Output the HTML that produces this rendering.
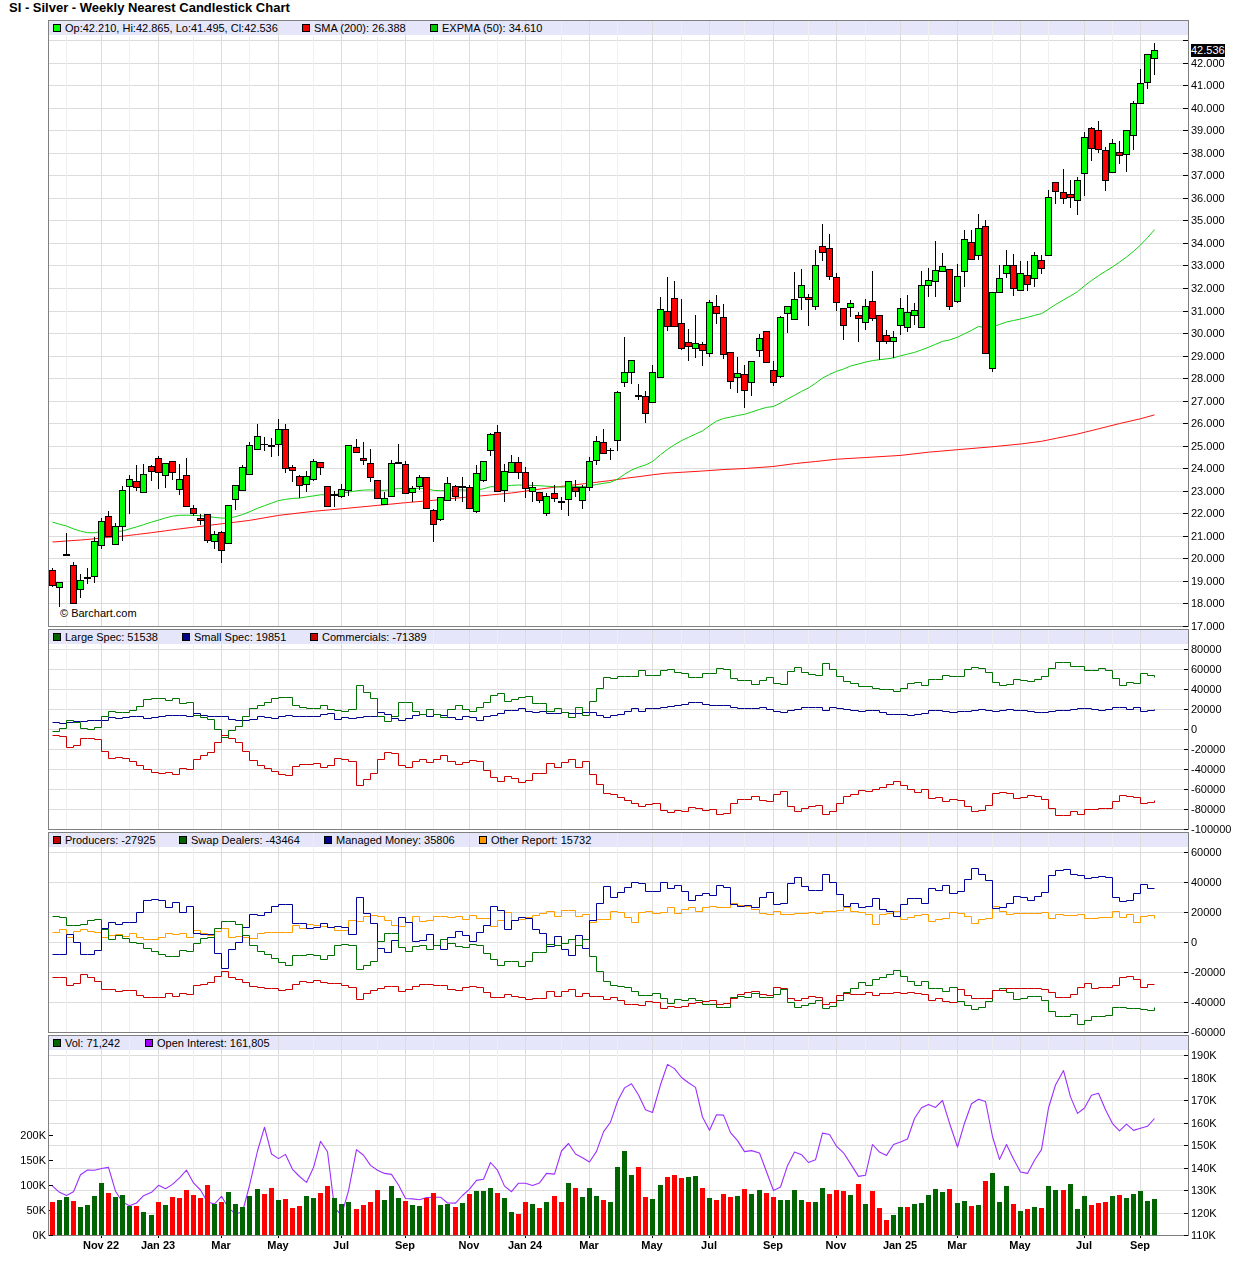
<!DOCTYPE html>
<html><head><meta charset="utf-8"><title>SI - Silver - Weekly Nearest Candlestick Chart</title>
<style>
html,body{margin:0;padding:0;background:#fff}
body{width:1236px;height:1276px;position:relative;overflow:hidden;font-family:"Liberation Sans", sans-serif;}
</style></head><body>
<svg width="1236" height="1276" viewBox="0 0 1236 1276" style="position:absolute;left:0;top:0">
<rect width="1236" height="1276" fill="#fff"/>
<rect x="49" y="21" width="1139" height="14" fill="#e6e6fa"/>
<rect x="49" y="630" width="1139" height="14" fill="#e6e6fa"/>
<rect x="49" y="833" width="1139" height="14" fill="#e6e6fa"/>
<rect x="49" y="1036" width="1139" height="14" fill="#e6e6fa"/>
<g shape-rendering="crispEdges">
<rect x="49" y="40" width="1139" height="1" fill="#dcdcdc"/>
<rect x="49" y="63" width="1139" height="1" fill="#dcdcdc"/>
<rect x="49" y="85" width="1139" height="1" fill="#dcdcdc"/>
<rect x="49" y="108" width="1139" height="1" fill="#dcdcdc"/>
<rect x="49" y="130" width="1139" height="1" fill="#dcdcdc"/>
<rect x="49" y="153" width="1139" height="1" fill="#dcdcdc"/>
<rect x="49" y="175" width="1139" height="1" fill="#dcdcdc"/>
<rect x="49" y="198" width="1139" height="1" fill="#dcdcdc"/>
<rect x="49" y="220" width="1139" height="1" fill="#dcdcdc"/>
<rect x="49" y="243" width="1139" height="1" fill="#dcdcdc"/>
<rect x="49" y="265" width="1139" height="1" fill="#dcdcdc"/>
<rect x="49" y="288" width="1139" height="1" fill="#dcdcdc"/>
<rect x="49" y="311" width="1139" height="1" fill="#dcdcdc"/>
<rect x="49" y="333" width="1139" height="1" fill="#dcdcdc"/>
<rect x="49" y="356" width="1139" height="1" fill="#dcdcdc"/>
<rect x="49" y="378" width="1139" height="1" fill="#dcdcdc"/>
<rect x="49" y="401" width="1139" height="1" fill="#dcdcdc"/>
<rect x="49" y="423" width="1139" height="1" fill="#dcdcdc"/>
<rect x="49" y="446" width="1139" height="1" fill="#dcdcdc"/>
<rect x="49" y="468" width="1139" height="1" fill="#dcdcdc"/>
<rect x="49" y="491" width="1139" height="1" fill="#dcdcdc"/>
<rect x="49" y="513" width="1139" height="1" fill="#dcdcdc"/>
<rect x="49" y="536" width="1139" height="1" fill="#dcdcdc"/>
<rect x="49" y="558" width="1139" height="1" fill="#dcdcdc"/>
<rect x="49" y="581" width="1139" height="1" fill="#dcdcdc"/>
<rect x="49" y="603" width="1139" height="1" fill="#dcdcdc"/>
<rect x="49" y="649" width="1139" height="1" fill="#dcdcdc"/>
<rect x="49" y="669" width="1139" height="1" fill="#dcdcdc"/>
<rect x="49" y="689" width="1139" height="1" fill="#dcdcdc"/>
<rect x="49" y="709" width="1139" height="1" fill="#dcdcdc"/>
<rect x="49" y="729" width="1139" height="1" fill="#dcdcdc"/>
<rect x="49" y="749" width="1139" height="1" fill="#dcdcdc"/>
<rect x="49" y="769" width="1139" height="1" fill="#dcdcdc"/>
<rect x="49" y="789" width="1139" height="1" fill="#dcdcdc"/>
<rect x="49" y="809" width="1139" height="1" fill="#dcdcdc"/>
<rect x="49" y="852" width="1139" height="1" fill="#dcdcdc"/>
<rect x="49" y="882" width="1139" height="1" fill="#dcdcdc"/>
<rect x="49" y="912" width="1139" height="1" fill="#dcdcdc"/>
<rect x="49" y="942" width="1139" height="1" fill="#dcdcdc"/>
<rect x="49" y="972" width="1139" height="1" fill="#dcdcdc"/>
<rect x="49" y="1002" width="1139" height="1" fill="#dcdcdc"/>
<rect x="49" y="1055" width="1139" height="1" fill="#dcdcdc"/>
<rect x="49" y="1078" width="1139" height="1" fill="#dcdcdc"/>
<rect x="49" y="1100" width="1139" height="1" fill="#dcdcdc"/>
<rect x="49" y="1123" width="1139" height="1" fill="#dcdcdc"/>
<rect x="49" y="1145" width="1139" height="1" fill="#dcdcdc"/>
<rect x="49" y="1168" width="1139" height="1" fill="#dcdcdc"/>
<rect x="49" y="1190" width="1139" height="1" fill="#dcdcdc"/>
<rect x="49" y="1213" width="1139" height="1" fill="#dcdcdc"/>
<rect x="101" y="21" width="1" height="605" fill="#dcdcdc"/>
<rect x="101" y="630" width="1" height="199" fill="#dcdcdc"/>
<rect x="101" y="833" width="1" height="199" fill="#dcdcdc"/>
<rect x="101" y="1036" width="1" height="199" fill="#dcdcdc"/>
<rect x="158" y="21" width="1" height="605" fill="#dcdcdc"/>
<rect x="158" y="630" width="1" height="199" fill="#dcdcdc"/>
<rect x="158" y="833" width="1" height="199" fill="#dcdcdc"/>
<rect x="158" y="1036" width="1" height="199" fill="#dcdcdc"/>
<rect x="221" y="21" width="1" height="605" fill="#dcdcdc"/>
<rect x="221" y="630" width="1" height="199" fill="#dcdcdc"/>
<rect x="221" y="833" width="1" height="199" fill="#dcdcdc"/>
<rect x="221" y="1036" width="1" height="199" fill="#dcdcdc"/>
<rect x="278" y="21" width="1" height="605" fill="#dcdcdc"/>
<rect x="278" y="630" width="1" height="199" fill="#dcdcdc"/>
<rect x="278" y="833" width="1" height="199" fill="#dcdcdc"/>
<rect x="278" y="1036" width="1" height="199" fill="#dcdcdc"/>
<rect x="341" y="21" width="1" height="605" fill="#dcdcdc"/>
<rect x="341" y="630" width="1" height="199" fill="#dcdcdc"/>
<rect x="341" y="833" width="1" height="199" fill="#dcdcdc"/>
<rect x="341" y="1036" width="1" height="199" fill="#dcdcdc"/>
<rect x="405" y="21" width="1" height="605" fill="#dcdcdc"/>
<rect x="405" y="630" width="1" height="199" fill="#dcdcdc"/>
<rect x="405" y="833" width="1" height="199" fill="#dcdcdc"/>
<rect x="405" y="1036" width="1" height="199" fill="#dcdcdc"/>
<rect x="469" y="21" width="1" height="605" fill="#dcdcdc"/>
<rect x="469" y="630" width="1" height="199" fill="#dcdcdc"/>
<rect x="469" y="833" width="1" height="199" fill="#dcdcdc"/>
<rect x="469" y="1036" width="1" height="199" fill="#dcdcdc"/>
<rect x="525" y="21" width="1" height="605" fill="#dcdcdc"/>
<rect x="525" y="630" width="1" height="199" fill="#dcdcdc"/>
<rect x="525" y="833" width="1" height="199" fill="#dcdcdc"/>
<rect x="525" y="1036" width="1" height="199" fill="#dcdcdc"/>
<rect x="589" y="21" width="1" height="605" fill="#dcdcdc"/>
<rect x="589" y="630" width="1" height="199" fill="#dcdcdc"/>
<rect x="589" y="833" width="1" height="199" fill="#dcdcdc"/>
<rect x="589" y="1036" width="1" height="199" fill="#dcdcdc"/>
<rect x="652" y="21" width="1" height="605" fill="#dcdcdc"/>
<rect x="652" y="630" width="1" height="199" fill="#dcdcdc"/>
<rect x="652" y="833" width="1" height="199" fill="#dcdcdc"/>
<rect x="652" y="1036" width="1" height="199" fill="#dcdcdc"/>
<rect x="709" y="21" width="1" height="605" fill="#dcdcdc"/>
<rect x="709" y="630" width="1" height="199" fill="#dcdcdc"/>
<rect x="709" y="833" width="1" height="199" fill="#dcdcdc"/>
<rect x="709" y="1036" width="1" height="199" fill="#dcdcdc"/>
<rect x="773" y="21" width="1" height="605" fill="#dcdcdc"/>
<rect x="773" y="630" width="1" height="199" fill="#dcdcdc"/>
<rect x="773" y="833" width="1" height="199" fill="#dcdcdc"/>
<rect x="773" y="1036" width="1" height="199" fill="#dcdcdc"/>
<rect x="836" y="21" width="1" height="605" fill="#dcdcdc"/>
<rect x="836" y="630" width="1" height="199" fill="#dcdcdc"/>
<rect x="836" y="833" width="1" height="199" fill="#dcdcdc"/>
<rect x="836" y="1036" width="1" height="199" fill="#dcdcdc"/>
<rect x="900" y="21" width="1" height="605" fill="#dcdcdc"/>
<rect x="900" y="630" width="1" height="199" fill="#dcdcdc"/>
<rect x="900" y="833" width="1" height="199" fill="#dcdcdc"/>
<rect x="900" y="1036" width="1" height="199" fill="#dcdcdc"/>
<rect x="957" y="21" width="1" height="605" fill="#dcdcdc"/>
<rect x="957" y="630" width="1" height="199" fill="#dcdcdc"/>
<rect x="957" y="833" width="1" height="199" fill="#dcdcdc"/>
<rect x="957" y="1036" width="1" height="199" fill="#dcdcdc"/>
<rect x="1020" y="21" width="1" height="605" fill="#dcdcdc"/>
<rect x="1020" y="630" width="1" height="199" fill="#dcdcdc"/>
<rect x="1020" y="833" width="1" height="199" fill="#dcdcdc"/>
<rect x="1020" y="1036" width="1" height="199" fill="#dcdcdc"/>
<rect x="1084" y="21" width="1" height="605" fill="#dcdcdc"/>
<rect x="1084" y="630" width="1" height="199" fill="#dcdcdc"/>
<rect x="1084" y="833" width="1" height="199" fill="#dcdcdc"/>
<rect x="1084" y="1036" width="1" height="199" fill="#dcdcdc"/>
<rect x="1140" y="21" width="1" height="605" fill="#dcdcdc"/>
<rect x="1140" y="630" width="1" height="199" fill="#dcdcdc"/>
<rect x="1140" y="833" width="1" height="199" fill="#dcdcdc"/>
<rect x="1140" y="1036" width="1" height="199" fill="#dcdcdc"/>
<rect x="66" y="21" width="1" height="605" fill="#efefef"/>
<rect x="66" y="630" width="1" height="199" fill="#efefef"/>
<rect x="66" y="833" width="1" height="199" fill="#efefef"/>
<rect x="66" y="1036" width="1" height="199" fill="#efefef"/>
<rect x="129" y="21" width="1" height="605" fill="#efefef"/>
<rect x="129" y="630" width="1" height="199" fill="#efefef"/>
<rect x="129" y="833" width="1" height="199" fill="#efefef"/>
<rect x="129" y="1036" width="1" height="199" fill="#efefef"/>
<rect x="193" y="21" width="1" height="605" fill="#efefef"/>
<rect x="193" y="630" width="1" height="199" fill="#efefef"/>
<rect x="193" y="833" width="1" height="199" fill="#efefef"/>
<rect x="193" y="1036" width="1" height="199" fill="#efefef"/>
<rect x="249" y="21" width="1" height="605" fill="#efefef"/>
<rect x="249" y="630" width="1" height="199" fill="#efefef"/>
<rect x="249" y="833" width="1" height="199" fill="#efefef"/>
<rect x="249" y="1036" width="1" height="199" fill="#efefef"/>
<rect x="313" y="21" width="1" height="605" fill="#efefef"/>
<rect x="313" y="630" width="1" height="199" fill="#efefef"/>
<rect x="313" y="833" width="1" height="199" fill="#efefef"/>
<rect x="313" y="1036" width="1" height="199" fill="#efefef"/>
<rect x="377" y="21" width="1" height="605" fill="#efefef"/>
<rect x="377" y="630" width="1" height="199" fill="#efefef"/>
<rect x="377" y="833" width="1" height="199" fill="#efefef"/>
<rect x="377" y="1036" width="1" height="199" fill="#efefef"/>
<rect x="433" y="21" width="1" height="605" fill="#efefef"/>
<rect x="433" y="630" width="1" height="199" fill="#efefef"/>
<rect x="433" y="833" width="1" height="199" fill="#efefef"/>
<rect x="433" y="1036" width="1" height="199" fill="#efefef"/>
<rect x="497" y="21" width="1" height="605" fill="#efefef"/>
<rect x="497" y="630" width="1" height="199" fill="#efefef"/>
<rect x="497" y="833" width="1" height="199" fill="#efefef"/>
<rect x="497" y="1036" width="1" height="199" fill="#efefef"/>
<rect x="561" y="21" width="1" height="605" fill="#efefef"/>
<rect x="561" y="630" width="1" height="199" fill="#efefef"/>
<rect x="561" y="833" width="1" height="199" fill="#efefef"/>
<rect x="561" y="1036" width="1" height="199" fill="#efefef"/>
<rect x="617" y="21" width="1" height="605" fill="#efefef"/>
<rect x="617" y="630" width="1" height="199" fill="#efefef"/>
<rect x="617" y="833" width="1" height="199" fill="#efefef"/>
<rect x="617" y="1036" width="1" height="199" fill="#efefef"/>
<rect x="681" y="21" width="1" height="605" fill="#efefef"/>
<rect x="681" y="630" width="1" height="199" fill="#efefef"/>
<rect x="681" y="833" width="1" height="199" fill="#efefef"/>
<rect x="681" y="1036" width="1" height="199" fill="#efefef"/>
<rect x="744" y="21" width="1" height="605" fill="#efefef"/>
<rect x="744" y="630" width="1" height="199" fill="#efefef"/>
<rect x="744" y="833" width="1" height="199" fill="#efefef"/>
<rect x="744" y="1036" width="1" height="199" fill="#efefef"/>
<rect x="808" y="21" width="1" height="605" fill="#efefef"/>
<rect x="808" y="630" width="1" height="199" fill="#efefef"/>
<rect x="808" y="833" width="1" height="199" fill="#efefef"/>
<rect x="808" y="1036" width="1" height="199" fill="#efefef"/>
<rect x="865" y="21" width="1" height="605" fill="#efefef"/>
<rect x="865" y="630" width="1" height="199" fill="#efefef"/>
<rect x="865" y="833" width="1" height="199" fill="#efefef"/>
<rect x="865" y="1036" width="1" height="199" fill="#efefef"/>
<rect x="928" y="21" width="1" height="605" fill="#efefef"/>
<rect x="928" y="630" width="1" height="199" fill="#efefef"/>
<rect x="928" y="833" width="1" height="199" fill="#efefef"/>
<rect x="928" y="1036" width="1" height="199" fill="#efefef"/>
<rect x="992" y="21" width="1" height="605" fill="#efefef"/>
<rect x="992" y="630" width="1" height="199" fill="#efefef"/>
<rect x="992" y="833" width="1" height="199" fill="#efefef"/>
<rect x="992" y="1036" width="1" height="199" fill="#efefef"/>
<rect x="1048" y="21" width="1" height="605" fill="#efefef"/>
<rect x="1048" y="630" width="1" height="199" fill="#efefef"/>
<rect x="1048" y="833" width="1" height="199" fill="#efefef"/>
<rect x="1048" y="1036" width="1" height="199" fill="#efefef"/>
<rect x="1112" y="21" width="1" height="605" fill="#efefef"/>
<rect x="1112" y="630" width="1" height="199" fill="#efefef"/>
<rect x="1112" y="833" width="1" height="199" fill="#efefef"/>
<rect x="1112" y="1036" width="1" height="199" fill="#efefef"/>
<rect x="48.5" y="20.5" width="1140" height="606" fill="none" stroke="#808080" stroke-width="1"/>
<rect x="48.5" y="629.5" width="1140" height="200" fill="none" stroke="#808080" stroke-width="1"/>
<rect x="48.5" y="832.5" width="1140" height="200" fill="none" stroke="#808080" stroke-width="1"/>
<rect x="48.5" y="1035.5" width="1140" height="200" fill="none" stroke="#808080" stroke-width="1"/>
<rect x="1183" y="40" width="5" height="1" fill="#000"/>
<rect x="1183" y="63" width="5" height="1" fill="#000"/>
<rect x="1183" y="85" width="5" height="1" fill="#000"/>
<rect x="1183" y="108" width="5" height="1" fill="#000"/>
<rect x="1183" y="130" width="5" height="1" fill="#000"/>
<rect x="1183" y="153" width="5" height="1" fill="#000"/>
<rect x="1183" y="175" width="5" height="1" fill="#000"/>
<rect x="1183" y="198" width="5" height="1" fill="#000"/>
<rect x="1183" y="220" width="5" height="1" fill="#000"/>
<rect x="1183" y="243" width="5" height="1" fill="#000"/>
<rect x="1183" y="265" width="5" height="1" fill="#000"/>
<rect x="1183" y="288" width="5" height="1" fill="#000"/>
<rect x="1183" y="311" width="5" height="1" fill="#000"/>
<rect x="1183" y="333" width="5" height="1" fill="#000"/>
<rect x="1183" y="356" width="5" height="1" fill="#000"/>
<rect x="1183" y="378" width="5" height="1" fill="#000"/>
<rect x="1183" y="401" width="5" height="1" fill="#000"/>
<rect x="1183" y="423" width="5" height="1" fill="#000"/>
<rect x="1183" y="446" width="5" height="1" fill="#000"/>
<rect x="1183" y="468" width="5" height="1" fill="#000"/>
<rect x="1183" y="491" width="5" height="1" fill="#000"/>
<rect x="1183" y="513" width="5" height="1" fill="#000"/>
<rect x="1183" y="536" width="5" height="1" fill="#000"/>
<rect x="1183" y="558" width="5" height="1" fill="#000"/>
<rect x="1183" y="581" width="5" height="1" fill="#000"/>
<rect x="1183" y="603" width="5" height="1" fill="#000"/>
<rect x="1183" y="626" width="5" height="1" fill="#000"/>
<rect x="1184" y="649" width="4" height="1" fill="#000"/>
<rect x="1184" y="669" width="4" height="1" fill="#000"/>
<rect x="1184" y="689" width="4" height="1" fill="#000"/>
<rect x="1184" y="709" width="4" height="1" fill="#000"/>
<rect x="1184" y="729" width="4" height="1" fill="#000"/>
<rect x="1184" y="749" width="4" height="1" fill="#000"/>
<rect x="1184" y="769" width="4" height="1" fill="#000"/>
<rect x="1184" y="789" width="4" height="1" fill="#000"/>
<rect x="1184" y="809" width="4" height="1" fill="#000"/>
<rect x="1184" y="829" width="4" height="1" fill="#000"/>
<rect x="1184" y="852" width="4" height="1" fill="#000"/>
<rect x="1184" y="882" width="4" height="1" fill="#000"/>
<rect x="1184" y="912" width="4" height="1" fill="#000"/>
<rect x="1184" y="942" width="4" height="1" fill="#000"/>
<rect x="1184" y="972" width="4" height="1" fill="#000"/>
<rect x="1184" y="1002" width="4" height="1" fill="#000"/>
<rect x="1184" y="1032" width="4" height="1" fill="#000"/>
<rect x="1184" y="1055" width="4" height="1" fill="#000"/>
<rect x="1184" y="1078" width="4" height="1" fill="#000"/>
<rect x="1184" y="1100" width="4" height="1" fill="#000"/>
<rect x="1184" y="1123" width="4" height="1" fill="#000"/>
<rect x="1184" y="1145" width="4" height="1" fill="#000"/>
<rect x="1184" y="1168" width="4" height="1" fill="#000"/>
<rect x="1184" y="1190" width="4" height="1" fill="#000"/>
<rect x="1184" y="1213" width="4" height="1" fill="#000"/>
<rect x="1184" y="1235" width="4" height="1" fill="#000"/>
<rect x="49" y="1135" width="4" height="1" fill="#000"/>
<rect x="49" y="1160" width="4" height="1" fill="#000"/>
<rect x="49" y="1185" width="4" height="1" fill="#000"/>
<rect x="49" y="1210" width="4" height="1" fill="#000"/>
<rect x="49" y="1235" width="4" height="1" fill="#000"/>
<rect x="101" y="1236" width="1" height="2" fill="#000"/>
<rect x="158" y="1236" width="1" height="2" fill="#000"/>
<rect x="221" y="1236" width="1" height="2" fill="#000"/>
<rect x="278" y="1236" width="1" height="2" fill="#000"/>
<rect x="341" y="1236" width="1" height="2" fill="#000"/>
<rect x="405" y="1236" width="1" height="2" fill="#000"/>
<rect x="469" y="1236" width="1" height="2" fill="#000"/>
<rect x="525" y="1236" width="1" height="2" fill="#000"/>
<rect x="589" y="1236" width="1" height="2" fill="#000"/>
<rect x="652" y="1236" width="1" height="2" fill="#000"/>
<rect x="709" y="1236" width="1" height="2" fill="#000"/>
<rect x="773" y="1236" width="1" height="2" fill="#000"/>
<rect x="836" y="1236" width="1" height="2" fill="#000"/>
<rect x="900" y="1236" width="1" height="2" fill="#000"/>
<rect x="957" y="1236" width="1" height="2" fill="#000"/>
<rect x="1020" y="1236" width="1" height="2" fill="#000"/>
<rect x="1084" y="1236" width="1" height="2" fill="#000"/>
<rect x="1140" y="1236" width="1" height="2" fill="#000"/>
</g>
<path d="M52.5 722.5H59.5V723.5H66.5V722.5H73.5V721.5H80.5H87.5V720.5H94.5H101.5H108.5V717.5H115.5V718.5H122.5V717.5H129.5V716.5H136.5H143.5V718.5H151.5V717.5H158.5V716.5H165.5V715.5H172.5H179.5H186.5V716.5H193.5V713.5H200.5V715.5H207.5V716.5H214.5H221.5H228.5V719.5H235.5V720.5H242.5H249.5V719.5H257.5V716.5H264.5V717.5H271.5V718.5H278.5V716.5H285.5V715.5H292.5V716.5H299.5H306.5H313.5H320.5V714.5H327.5V713.5H334.5V719.5H341.5V717.5H348.5V718.5H356.5V717.5H363.5V716.5H370.5H377.5V712.5H384.5V714.5H391.5V718.5H398.5V720.5H405.5V718.5H412.5V715.5H419.5V714.5H426.5V716.5H433.5V714.5H440.5V715.5H447.5V717.5H455.5V719.5H462.5V716.5H469.5V717.5H476.5V720.5H483.5V716.5H490.5V715.5H497.5V713.5H504.5V710.5H511.5H518.5V708.5H525.5V711.5H532.5V712.5H539.5V711.5H546.5V713.5H554.5H561.5V712.5H568.5V713.5H575.5H582.5V712.5H589.5H596.5V715.5H603.5V717.5H610.5V715.5H617.5V714.5H624.5V711.5H631.5V708.5H638.5V711.5H645.5V708.5H652.5H660.5V707.5H667.5V706.5H674.5V705.5H681.5V704.5H688.5V702.5H695.5H702.5V704.5H709.5V705.5H716.5H723.5H730.5V707.5H737.5V708.5H744.5H751.5H759.5V707.5H766.5V709.5H773.5V711.5H780.5V712.5H787.5V710.5H794.5V709.5H801.5V707.5H808.5H815.5H822.5V710.5H829.5V707.5H836.5V708.5H843.5V709.5H850.5V710.5H858.5V711.5H865.5V710.5H872.5H879.5V712.5H886.5V714.5H893.5H900.5H907.5V715.5H914.5V714.5H921.5V713.5H928.5V710.5H935.5H942.5V711.5H949.5V712.5H957.5V711.5H964.5H971.5V710.5H978.5V709.5H985.5V710.5H992.5V711.5H999.5V710.5H1006.5V709.5H1013.5V710.5H1020.5H1027.5V711.5H1034.5V712.5H1041.5H1048.5V711.5H1055.5V710.5H1063.5H1070.5V709.5H1077.5V708.5H1084.5H1091.5V709.5H1098.5V710.5H1105.5V709.5H1112.5V707.5H1119.5H1126.5V709.5H1133.5V707.5H1140.5V711.5H1147.5V710.5H1154.5V709.5" fill="none" stroke="#00008b" stroke-width="1"/>
<path d="M52.5 735.5H59.5V736.5H66.5V747.5H73.5V745.5H80.5V738.5H87.5H94.5V739.5H101.5V751.5H108.5V758.5H115.5V757.5H122.5V758.5H129.5V761.5H136.5V765.5H143.5V769.5H151.5V772.5H158.5V773.5H165.5V772.5H172.5V774.5H179.5V768.5H186.5V769.5H193.5V759.5H200.5V755.5H207.5V752.5H214.5V742.5H221.5V735.5H228.5V738.5H235.5V742.5H242.5V751.5H249.5V760.5H257.5V765.5H264.5V768.5H271.5V771.5H278.5V774.5H285.5V775.5H292.5V766.5H299.5V764.5H306.5H313.5V763.5H320.5V767.5H327.5V765.5H334.5V758.5H341.5V759.5H348.5V761.5H356.5V785.5H363.5V779.5H370.5V773.5H377.5V759.5H384.5V752.5H391.5V753.5H398.5V765.5H405.5V767.5H412.5V761.5H419.5V759.5H426.5V762.5H433.5V759.5H440.5V755.5H447.5V761.5H455.5V764.5H462.5V762.5H469.5V760.5H476.5V761.5H483.5V770.5H490.5V777.5H497.5V781.5H504.5V776.5H511.5V778.5H518.5V782.5H525.5V780.5H532.5V773.5H539.5H546.5V763.5H554.5V767.5H561.5V762.5H568.5V759.5H575.5V767.5H582.5V761.5H589.5V774.5H596.5V784.5H603.5V793.5H610.5V794.5H617.5V797.5H624.5V800.5H631.5V803.5H638.5V806.5H645.5V804.5H652.5V803.5H660.5V810.5H667.5V812.5H674.5V810.5H681.5V811.5H688.5V807.5H695.5V808.5H702.5V810.5H709.5V809.5H716.5V814.5H723.5V813.5H730.5V803.5H737.5V799.5H744.5H751.5V796.5H759.5V800.5H766.5V801.5H773.5V794.5H780.5V791.5H787.5V806.5H794.5V811.5H801.5V808.5H808.5V806.5H815.5V805.5H822.5V814.5H829.5V811.5H836.5V803.5H843.5V796.5H850.5V794.5H858.5V790.5H865.5V791.5H872.5V789.5H879.5V787.5H886.5V784.5H893.5V781.5H900.5V785.5H907.5V789.5H914.5V792.5H921.5V789.5H928.5V798.5H935.5V797.5H942.5V801.5H949.5V799.5H957.5V800.5H964.5V806.5H971.5V811.5H978.5V810.5H985.5V805.5H992.5V793.5H999.5V792.5H1006.5V793.5H1013.5V798.5H1020.5V797.5H1027.5V795.5H1034.5V796.5H1041.5V799.5H1048.5V808.5H1055.5V815.5H1063.5H1070.5V811.5H1077.5V814.5H1084.5V809.5H1091.5H1098.5V808.5H1105.5H1112.5V801.5H1119.5V795.5H1126.5V796.5H1133.5V797.5H1140.5V803.5H1147.5V802.5H1154.5V800.5" fill="none" stroke="#cc0000" stroke-width="1"/>
<path d="M52.5 731.5H59.5V728.5H66.5V720.5H73.5V722.5H80.5V728.5H87.5V729.5H94.5V727.5H101.5V716.5H108.5V711.5H115.5V712.5H122.5H129.5V710.5H136.5V706.5H143.5V699.5H151.5V698.5H158.5H165.5V700.5H172.5V698.5H179.5V703.5H186.5V702.5H193.5V715.5H200.5V717.5H207.5V719.5H214.5V729.5H221.5V737.5H228.5V730.5H235.5V726.5H242.5V716.5H249.5V708.5H257.5V705.5H264.5V702.5H271.5V698.5H278.5V697.5H285.5H292.5V705.5H299.5V707.5H306.5V708.5H313.5H320.5V705.5H327.5V709.5H334.5V710.5H341.5V711.5H348.5V709.5H356.5V685.5H363.5V692.5H370.5V698.5H377.5V716.5H384.5V721.5H391.5V716.5H398.5V702.5H405.5H412.5V711.5H419.5V714.5H426.5V709.5H433.5V714.5H440.5V717.5H447.5V709.5H455.5V705.5H462.5V709.5H469.5V711.5H476.5V707.5H483.5V702.5H490.5V695.5H497.5V693.5H504.5V701.5H511.5V699.5H518.5V697.5H525.5V696.5H532.5V703.5H539.5H546.5V711.5H554.5V708.5H561.5V712.5H568.5V717.5H575.5V707.5H582.5V715.5H589.5V701.5H596.5V688.5H603.5V677.5H610.5V678.5H617.5V676.5H624.5H631.5H638.5V670.5H645.5V675.5H652.5H660.5V670.5H667.5V669.5H674.5V672.5H681.5V673.5H688.5V677.5H695.5H702.5V673.5H709.5H716.5V668.5H723.5V669.5H730.5V678.5H737.5V680.5H744.5H751.5V684.5H759.5V680.5H766.5V677.5H773.5V683.5H780.5V684.5H787.5V671.5H794.5V667.5H801.5V672.5H808.5V674.5H815.5V675.5H822.5V663.5H829.5V669.5H836.5V676.5H843.5V681.5H850.5V683.5H858.5V686.5H865.5H872.5V688.5H879.5V689.5H886.5H893.5V691.5H900.5V688.5H907.5V683.5H914.5V682.5H921.5V685.5H928.5V679.5H935.5H942.5V675.5H949.5V676.5H957.5H964.5V669.5H971.5V667.5H978.5V668.5H985.5V672.5H992.5V682.5H999.5V685.5H1006.5V684.5H1013.5V679.5H1020.5V680.5H1027.5V681.5H1034.5V679.5H1041.5V676.5H1048.5V668.5H1055.5V662.5H1063.5H1070.5V666.5H1077.5H1084.5V670.5H1091.5H1098.5V668.5H1105.5V670.5H1112.5V678.5H1119.5V685.5H1126.5V682.5H1133.5V683.5H1140.5V673.5H1147.5V675.5H1154.5V677.5" fill="none" stroke="#007000" stroke-width="1"/>
<path d="M52.5 932.5H59.5V929.5H66.5V937.5H73.5V931.5H80.5V929.5H87.5V931.5H94.5V932.5H101.5V937.5H108.5V935.5H115.5V934.5H122.5V936.5H129.5V933.5H136.5V937.5H143.5V939.5H151.5H158.5V937.5H165.5V933.5H172.5V934.5H179.5V933.5H186.5V937.5H193.5V930.5H200.5V933.5H207.5V935.5H214.5V931.5H221.5V928.5H228.5V937.5H235.5V936.5H242.5V937.5H249.5V938.5H257.5V933.5H264.5V932.5H271.5H278.5H285.5H292.5V925.5H299.5V928.5H306.5V924.5H313.5V925.5H320.5V926.5H327.5V927.5H334.5V930.5H341.5H348.5V920.5H356.5V921.5H363.5V916.5H370.5V915.5H377.5V916.5H384.5V920.5H391.5V925.5H398.5V926.5H405.5V922.5H412.5V916.5H419.5V921.5H426.5V920.5H433.5V916.5H440.5H447.5V917.5H455.5V916.5H462.5V919.5H469.5V915.5H476.5V918.5H483.5H490.5V926.5H497.5V920.5H504.5V912.5H511.5V920.5H518.5V919.5H525.5V917.5H532.5V915.5H539.5V913.5H546.5V911.5H554.5V916.5H561.5V910.5H568.5H575.5V916.5H582.5V914.5H589.5V922.5H596.5V919.5H603.5H610.5V911.5H617.5V912.5H624.5V917.5H631.5V922.5H638.5V912.5H645.5V911.5H652.5V913.5H660.5V912.5H667.5V907.5H674.5V913.5H681.5V909.5H688.5V907.5H695.5V911.5H702.5V907.5H709.5V906.5H716.5V907.5H723.5H730.5V903.5H737.5V905.5H744.5V906.5H751.5V909.5H759.5V913.5H766.5V914.5H773.5V911.5H780.5V914.5H787.5H794.5V913.5H801.5H808.5V912.5H815.5V913.5H822.5V911.5H829.5H836.5V910.5H843.5V907.5H850.5V911.5H858.5V912.5H865.5V914.5H872.5V924.5H879.5V914.5H886.5V913.5H893.5V911.5H900.5V919.5H907.5V917.5H914.5V915.5H921.5V914.5H928.5V921.5H935.5V919.5H942.5V918.5H949.5V912.5H957.5V913.5H964.5V916.5H971.5V923.5H978.5V919.5H985.5V918.5H992.5V906.5H999.5V911.5H1006.5V914.5H1013.5V913.5H1020.5H1027.5H1034.5H1041.5V912.5H1048.5V918.5H1055.5V914.5H1063.5V915.5H1070.5H1077.5V914.5H1084.5V918.5H1091.5H1098.5V917.5H1105.5H1112.5V911.5H1119.5V917.5H1126.5V914.5H1133.5V922.5H1140.5V916.5H1147.5V915.5H1154.5V918.5" fill="none" stroke="#ffa000" stroke-width="1"/>
<path d="M52.5 954.5H59.5H66.5V934.5H73.5V942.5H80.5V954.5H87.5H94.5V950.5H101.5V928.5H108.5V922.5H115.5V924.5H122.5V922.5H129.5H136.5V912.5H143.5V900.5H151.5V899.5H158.5V900.5H165.5V907.5H172.5V902.5H179.5V912.5H186.5V906.5H193.5V933.5H200.5V934.5H207.5H214.5V953.5H221.5V968.5H228.5V949.5H235.5V942.5H242.5V927.5H249.5V914.5H257.5V915.5H264.5V912.5H271.5V906.5H278.5V904.5H285.5H292.5V923.5H299.5H306.5V928.5H313.5V927.5H320.5V923.5H327.5V927.5H334.5V926.5H341.5V927.5H348.5V934.5H356.5V897.5H363.5V913.5H370.5V923.5H377.5V948.5H384.5V952.5H391.5V940.5H398.5V917.5H405.5V922.5H412.5V941.5H419.5V940.5H426.5V934.5H433.5V945.5H440.5V949.5H447.5V937.5H455.5V931.5H462.5V935.5H469.5V941.5H476.5V932.5H483.5V925.5H490.5V906.5H497.5V910.5H504.5V929.5H511.5V920.5H518.5V917.5H525.5V918.5H532.5V929.5H539.5V933.5H546.5V946.5H554.5V936.5H561.5V949.5H568.5V955.5H575.5V935.5H582.5V948.5H589.5V920.5H596.5V903.5H603.5V886.5H610.5V897.5H617.5V892.5H624.5V887.5H631.5V882.5H638.5V883.5H645.5V891.5H652.5H660.5V882.5H667.5V888.5H674.5V885.5H681.5V891.5H688.5V900.5H695.5V895.5H702.5V893.5H709.5V895.5H716.5V885.5H723.5V887.5H730.5V904.5H737.5V906.5H744.5V905.5H751.5V907.5H759.5V897.5H766.5V892.5H773.5V904.5H780.5V903.5H787.5V883.5H794.5V877.5H801.5V886.5H808.5V890.5H815.5H822.5V874.5H829.5V882.5H836.5V894.5H843.5V906.5H850.5V903.5H858.5V907.5H865.5V906.5H872.5V898.5H879.5V909.5H886.5V911.5H893.5V916.5H900.5V904.5H907.5V898.5H914.5H921.5V903.5H928.5V888.5H935.5V890.5H942.5V885.5H949.5V893.5H957.5V891.5H964.5V879.5H971.5V868.5H978.5V874.5H985.5V880.5H992.5V908.5H999.5V907.5H1006.5V903.5H1013.5V896.5H1020.5V897.5H1027.5V900.5H1034.5V896.5H1041.5V892.5H1048.5V875.5H1055.5V870.5H1063.5V869.5H1070.5V874.5H1077.5V875.5H1084.5V878.5H1091.5V877.5H1098.5V876.5H1105.5V877.5H1112.5V897.5H1119.5V901.5H1126.5V900.5H1133.5V893.5H1140.5V884.5H1147.5V888.5H1154.5" fill="none" stroke="#00009b" stroke-width="1"/>
<path d="M52.5 916.5H59.5V917.5H66.5V925.5H73.5H80.5V924.5H87.5V920.5H94.5V919.5H101.5V929.5H108.5V939.5H115.5V935.5H122.5V938.5H129.5V942.5H136.5V943.5H143.5V948.5H151.5V951.5H158.5V954.5H165.5V956.5H172.5H179.5V950.5H186.5V951.5H193.5V943.5H200.5V938.5H207.5V937.5H214.5V928.5H221.5V921.5H228.5H235.5V924.5H242.5V935.5H249.5V945.5H257.5V951.5H264.5V954.5H271.5V958.5H278.5V962.5H285.5V965.5H292.5V955.5H299.5H306.5V954.5H313.5V955.5H320.5V959.5H327.5V955.5H334.5V945.5H341.5V944.5H348.5V945.5H356.5V969.5H363.5V965.5H370.5V961.5H377.5V941.5H384.5V933.5H391.5H398.5V947.5H405.5V951.5H412.5V946.5H419.5V945.5H426.5V949.5H433.5V945.5H440.5V939.5H447.5V943.5H455.5V946.5H462.5V947.5H469.5V944.5H476.5V945.5H483.5V953.5H490.5V959.5H497.5V965.5H504.5V961.5H511.5H518.5V966.5H525.5V961.5H532.5V952.5H539.5H546.5V944.5H554.5V945.5H561.5V943.5H568.5V939.5H575.5V945.5H582.5V939.5H589.5V956.5H596.5V971.5H603.5V981.5H610.5V985.5H617.5V986.5H624.5V987.5H631.5V991.5H638.5V995.5H645.5H652.5V993.5H660.5V998.5H667.5V1003.5H674.5V999.5H681.5V1000.5H688.5V998.5H695.5V1000.5H702.5V1004.5H709.5H716.5V1007.5H723.5H730.5V997.5H737.5V996.5H744.5V997.5H751.5V993.5H759.5V997.5H766.5H773.5V994.5H780.5V989.5H787.5V1002.5H794.5V1007.5H801.5V1005.5H808.5V1003.5H815.5V1000.5H822.5V1008.5H829.5V1006.5H836.5V1000.5H843.5V992.5H850.5V988.5H858.5V982.5H865.5V985.5H872.5V979.5H879.5V977.5H886.5V974.5H893.5V970.5H900.5V976.5H907.5V981.5H914.5V985.5H921.5V981.5H928.5V988.5H935.5H942.5V991.5H949.5V987.5H957.5V1001.5H964.5V1005.5H971.5V1009.5H978.5V1007.5H985.5V1001.5H992.5V990.5H999.5V988.5H1006.5V992.5H1013.5V999.5H1020.5V998.5H1027.5V996.5H1034.5H1041.5V1000.5H1048.5V1011.5H1055.5V1016.5H1063.5H1070.5V1014.5H1077.5V1024.5H1084.5V1020.5H1091.5V1016.5H1098.5H1105.5V1015.5H1112.5V1007.5H1119.5H1126.5V1008.5H1133.5H1140.5V1009.5H1147.5V1010.5H1154.5V1007.5" fill="none" stroke="#007000" stroke-width="1"/>
<path d="M52.5 977.5H59.5H66.5V985.5H73.5V983.5H80.5V974.5H87.5V977.5H94.5V981.5H101.5V989.5H108.5H115.5V991.5H122.5V990.5H129.5H136.5V995.5H143.5V997.5H151.5H158.5H165.5V993.5H172.5V996.5H179.5V993.5H186.5V994.5H193.5V985.5H200.5V984.5H207.5V982.5H214.5V976.5H221.5V971.5H228.5V977.5H235.5V979.5H242.5V982.5H249.5V986.5H257.5V987.5H264.5V988.5H271.5H278.5V990.5H285.5V989.5H292.5V984.5H299.5V981.5H306.5V982.5H313.5V980.5H320.5V982.5H327.5V983.5H334.5H341.5V985.5H348.5V987.5H356.5V999.5H363.5V993.5H370.5V990.5H377.5V988.5H384.5V986.5H391.5H398.5V991.5H405.5V989.5H412.5V986.5H419.5V984.5H426.5H433.5V985.5H440.5H447.5V989.5H455.5V990.5H462.5V987.5H469.5V986.5H476.5V987.5H483.5V992.5H490.5V997.5H497.5H504.5V994.5H511.5V996.5H518.5V997.5H525.5V999.5H532.5V998.5H539.5H546.5V991.5H554.5V996.5H561.5V991.5H568.5V989.5H575.5V996.5H582.5V993.5H589.5V996.5H596.5H603.5V999.5H610.5V997.5H617.5V1000.5H624.5V1004.5H631.5H638.5V1005.5H645.5V1001.5H652.5V1002.5H660.5V1008.5H667.5V1006.5H674.5V1007.5H681.5V1006.5H688.5V1003.5H695.5V1002.5H702.5V1001.5H709.5V1000.5H716.5V1004.5H723.5V1003.5H730.5V998.5H737.5V994.5H744.5V992.5H751.5V991.5H759.5V994.5H766.5V995.5H773.5V987.5H780.5V988.5H787.5V998.5H794.5V1000.5H801.5V998.5H808.5V996.5H815.5V997.5H822.5V1004.5H829.5V1002.5H836.5V995.5H843.5V993.5H850.5V994.5H858.5H865.5V992.5H872.5V995.5H879.5V993.5H886.5H893.5V992.5H900.5V993.5H907.5V992.5H914.5V993.5H921.5V994.5H928.5V1000.5H935.5V998.5H942.5V1001.5H949.5V1002.5H957.5V989.5H964.5V995.5H971.5V998.5H978.5H985.5H992.5V990.5H999.5H1006.5V988.5H1013.5H1020.5H1027.5H1034.5H1041.5V989.5H1048.5V992.5H1055.5V997.5H1063.5H1070.5V994.5H1077.5V987.5H1084.5V983.5H1091.5V988.5H1098.5V987.5H1105.5H1112.5V985.5H1119.5V977.5H1126.5V976.5H1133.5V979.5H1140.5V987.5H1147.5V984.5H1154.5" fill="none" stroke="#cc0000" stroke-width="1"/>
<polyline points="52.5,1186.1 59.5,1192.3 66.5,1195.6 73.5,1191.7 80.5,1174.8 87.5,1170.0 94.5,1170.2 101.5,1168.5 108.5,1167.4 115.5,1191.2 122.5,1202.0 129.5,1205.7 136.5,1203.0 143.5,1195.7 151.5,1192.3 158.5,1185.3 165.5,1188.7 172.5,1184.4 179.5,1177.8 186.5,1170.2 193.5,1182.9 200.5,1190.0 207.5,1202.0 214.5,1204.0 221.5,1196.3 228.5,1208.0 235.5,1213.8 242.5,1212.0 249.5,1185.5 257.5,1151.0 264.5,1127.2 271.5,1154.0 278.5,1158.6 285.5,1154.4 292.5,1169.3 299.5,1176.5 306.5,1182.4 313.5,1167.6 320.5,1141.3 327.5,1151.8 334.5,1208.0 341.5,1215.0 348.5,1190.9 356.5,1149.6 363.5,1155.2 370.5,1165.4 377.5,1170.2 384.5,1173.4 391.5,1174.4 398.5,1185.0 405.5,1198.5 412.5,1198.9 419.5,1199.7 426.5,1197.5 433.5,1197.2 440.5,1197.2 447.5,1203.0 455.5,1203.1 462.5,1195.5 469.5,1189.2 476.5,1180.4 483.5,1179.2 490.5,1162.5 497.5,1170.2 504.5,1186.1 511.5,1191.7 518.5,1183.2 525.5,1183.2 532.5,1185.5 539.5,1182.9 546.5,1173.4 554.5,1174.1 561.5,1151.0 568.5,1143.5 575.5,1154.0 582.5,1157.8 589.5,1162.0 596.5,1151.4 603.5,1131.9 610.5,1122.2 617.5,1101.3 624.5,1087.9 631.5,1083.8 638.5,1095.0 645.5,1109.8 652.5,1112.5 660.5,1084.8 667.5,1064.4 674.5,1068.6 681.5,1077.5 688.5,1082.7 695.5,1087.4 702.5,1117.0 709.5,1130.3 716.5,1114.8 723.5,1115.1 730.5,1132.6 737.5,1140.6 744.5,1151.6 751.5,1150.6 759.5,1153.0 766.5,1171.7 773.5,1190.5 780.5,1187.0 787.5,1165.7 794.5,1152.1 801.5,1154.7 808.5,1162.5 815.5,1159.8 822.5,1133.1 829.5,1134.5 836.5,1146.2 843.5,1152.8 850.5,1163.6 858.5,1176.4 865.5,1175.2 872.5,1144.5 879.5,1152.1 886.5,1155.4 893.5,1144.5 900.5,1141.9 907.5,1139.0 914.5,1118.5 921.5,1107.8 928.5,1104.4 935.5,1107.4 942.5,1100.5 949.5,1123.2 957.5,1147.0 964.5,1123.2 971.5,1103.7 978.5,1099.3 985.5,1101.5 992.5,1136.5 999.5,1159.4 1006.5,1144.5 1013.5,1158.9 1020.5,1172.0 1027.5,1173.4 1034.5,1160.3 1041.5,1149.6 1048.5,1108.0 1055.5,1085.0 1063.5,1070.6 1070.5,1096.9 1077.5,1113.4 1084.5,1108.0 1091.5,1095.2 1098.5,1093.2 1105.5,1109.7 1112.5,1123.6 1119.5,1130.9 1126.5,1124.1 1133.5,1130.4 1140.5,1128.3 1147.5,1126.3 1154.5,1118.5" fill="none" stroke="#9b30ff" stroke-width="1.1" stroke-linejoin="round"/>
<g shape-rendering="crispEdges">
<rect x="50.0" y="1202" width="5" height="33" fill="#ff0000"/>
<rect x="57.0" y="1200" width="5" height="35" fill="#006400"/>
<rect x="64.0" y="1197" width="5" height="38" fill="#006400"/>
<rect x="71.0" y="1201" width="5" height="34" fill="#ff0000"/>
<rect x="78.0" y="1207" width="5" height="28" fill="#006400"/>
<rect x="85.0" y="1205" width="5" height="30" fill="#006400"/>
<rect x="92.0" y="1196" width="5" height="39" fill="#006400"/>
<rect x="99.0" y="1183" width="5" height="52" fill="#006400"/>
<rect x="106.0" y="1193" width="5" height="42" fill="#ff0000"/>
<rect x="113.0" y="1197" width="5" height="38" fill="#006400"/>
<rect x="120.0" y="1195" width="5" height="40" fill="#006400"/>
<rect x="127.0" y="1206" width="5" height="29" fill="#006400"/>
<rect x="134.0" y="1206" width="5" height="29" fill="#ff0000"/>
<rect x="141.0" y="1212" width="5" height="23" fill="#006400"/>
<rect x="149.0" y="1215" width="5" height="20" fill="#006400"/>
<rect x="156.0" y="1202" width="5" height="33" fill="#ff0000"/>
<rect x="163.0" y="1205" width="5" height="30" fill="#006400"/>
<rect x="170.0" y="1197" width="5" height="38" fill="#ff0000"/>
<rect x="177.0" y="1198" width="5" height="37" fill="#ff0000"/>
<rect x="184.0" y="1190" width="5" height="45" fill="#ff0000"/>
<rect x="191.0" y="1195" width="5" height="40" fill="#ff0000"/>
<rect x="198.0" y="1198" width="5" height="37" fill="#ff0000"/>
<rect x="205.0" y="1185" width="5" height="50" fill="#ff0000"/>
<rect x="212.0" y="1204" width="5" height="31" fill="#006400"/>
<rect x="219.0" y="1202" width="5" height="33" fill="#ff0000"/>
<rect x="226.0" y="1192" width="5" height="43" fill="#006400"/>
<rect x="233.0" y="1204" width="5" height="31" fill="#006400"/>
<rect x="240.0" y="1207" width="5" height="28" fill="#006400"/>
<rect x="247.0" y="1196" width="5" height="39" fill="#006400"/>
<rect x="255.0" y="1189" width="5" height="46" fill="#006400"/>
<rect x="262.0" y="1194" width="5" height="41" fill="#ff0000"/>
<rect x="269.0" y="1188" width="5" height="47" fill="#ff0000"/>
<rect x="276.0" y="1200" width="5" height="35" fill="#006400"/>
<rect x="283.0" y="1199" width="5" height="36" fill="#ff0000"/>
<rect x="290.0" y="1208" width="5" height="27" fill="#ff0000"/>
<rect x="297.0" y="1206" width="5" height="29" fill="#ff0000"/>
<rect x="304.0" y="1196" width="5" height="39" fill="#006400"/>
<rect x="311.0" y="1198" width="5" height="37" fill="#006400"/>
<rect x="318.0" y="1193" width="5" height="42" fill="#ff0000"/>
<rect x="325.0" y="1186" width="5" height="49" fill="#ff0000"/>
<rect x="332.0" y="1198" width="5" height="37" fill="#006400"/>
<rect x="339.0" y="1204" width="5" height="31" fill="#006400"/>
<rect x="346.0" y="1202" width="5" height="33" fill="#006400"/>
<rect x="354.0" y="1209" width="5" height="26" fill="#ff0000"/>
<rect x="361.0" y="1205" width="5" height="30" fill="#ff0000"/>
<rect x="368.0" y="1202" width="5" height="33" fill="#ff0000"/>
<rect x="375.0" y="1190" width="5" height="45" fill="#ff0000"/>
<rect x="382.0" y="1200" width="5" height="35" fill="#006400"/>
<rect x="389.0" y="1186" width="5" height="49" fill="#006400"/>
<rect x="396.0" y="1198" width="5" height="37" fill="#006400"/>
<rect x="403.0" y="1201" width="5" height="34" fill="#ff0000"/>
<rect x="410.0" y="1205" width="5" height="30" fill="#006400"/>
<rect x="417.0" y="1206" width="5" height="29" fill="#006400"/>
<rect x="424.0" y="1198" width="5" height="37" fill="#ff0000"/>
<rect x="431.0" y="1193" width="5" height="42" fill="#ff0000"/>
<rect x="438.0" y="1205" width="5" height="30" fill="#006400"/>
<rect x="445.0" y="1204" width="5" height="31" fill="#006400"/>
<rect x="453.0" y="1207" width="5" height="28" fill="#ff0000"/>
<rect x="460.0" y="1203" width="5" height="32" fill="#006400"/>
<rect x="467.0" y="1194" width="5" height="41" fill="#ff0000"/>
<rect x="474.0" y="1191" width="5" height="44" fill="#006400"/>
<rect x="481.0" y="1191" width="5" height="44" fill="#006400"/>
<rect x="488.0" y="1188" width="5" height="47" fill="#006400"/>
<rect x="495.0" y="1193" width="5" height="42" fill="#ff0000"/>
<rect x="502.0" y="1198" width="5" height="37" fill="#006400"/>
<rect x="509.0" y="1212" width="5" height="23" fill="#006400"/>
<rect x="516.0" y="1214" width="5" height="21" fill="#ff0000"/>
<rect x="523.0" y="1202" width="5" height="33" fill="#ff0000"/>
<rect x="530.0" y="1204" width="5" height="31" fill="#006400"/>
<rect x="537.0" y="1208" width="5" height="27" fill="#ff0000"/>
<rect x="544.0" y="1202" width="5" height="33" fill="#006400"/>
<rect x="552.0" y="1196" width="5" height="39" fill="#ff0000"/>
<rect x="559.0" y="1202" width="5" height="33" fill="#ff0000"/>
<rect x="566.0" y="1183" width="5" height="52" fill="#006400"/>
<rect x="573.0" y="1188" width="5" height="47" fill="#ff0000"/>
<rect x="580.0" y="1197" width="5" height="38" fill="#006400"/>
<rect x="587.0" y="1188" width="5" height="47" fill="#006400"/>
<rect x="594.0" y="1196" width="5" height="39" fill="#006400"/>
<rect x="601.0" y="1200" width="5" height="35" fill="#ff0000"/>
<rect x="608.0" y="1202" width="5" height="33" fill="#006400"/>
<rect x="615.0" y="1167" width="5" height="68" fill="#006400"/>
<rect x="622.0" y="1151" width="5" height="84" fill="#006400"/>
<rect x="629.0" y="1175" width="5" height="60" fill="#006400"/>
<rect x="636.0" y="1167" width="5" height="68" fill="#ff0000"/>
<rect x="643.0" y="1197" width="5" height="38" fill="#ff0000"/>
<rect x="650.0" y="1199" width="5" height="36" fill="#006400"/>
<rect x="658.0" y="1185" width="5" height="50" fill="#006400"/>
<rect x="665.0" y="1177" width="5" height="58" fill="#ff0000"/>
<rect x="672.0" y="1175" width="5" height="60" fill="#ff0000"/>
<rect x="679.0" y="1178" width="5" height="57" fill="#ff0000"/>
<rect x="686.0" y="1177" width="5" height="58" fill="#006400"/>
<rect x="693.0" y="1176" width="5" height="59" fill="#006400"/>
<rect x="700.0" y="1188" width="5" height="47" fill="#ff0000"/>
<rect x="707.0" y="1198" width="5" height="37" fill="#006400"/>
<rect x="714.0" y="1200" width="5" height="35" fill="#ff0000"/>
<rect x="721.0" y="1194" width="5" height="41" fill="#ff0000"/>
<rect x="728.0" y="1197" width="5" height="38" fill="#ff0000"/>
<rect x="735.0" y="1196" width="5" height="39" fill="#006400"/>
<rect x="742.0" y="1189" width="5" height="46" fill="#ff0000"/>
<rect x="749.0" y="1194" width="5" height="41" fill="#006400"/>
<rect x="757.0" y="1190" width="5" height="45" fill="#006400"/>
<rect x="764.0" y="1193" width="5" height="42" fill="#ff0000"/>
<rect x="771.0" y="1197" width="5" height="38" fill="#ff0000"/>
<rect x="778.0" y="1200" width="5" height="35" fill="#006400"/>
<rect x="785.0" y="1200" width="5" height="35" fill="#006400"/>
<rect x="792.0" y="1190" width="5" height="45" fill="#006400"/>
<rect x="799.0" y="1200" width="5" height="35" fill="#006400"/>
<rect x="806.0" y="1202" width="5" height="33" fill="#ff0000"/>
<rect x="813.0" y="1202" width="5" height="33" fill="#006400"/>
<rect x="820.0" y="1188" width="5" height="47" fill="#006400"/>
<rect x="827.0" y="1194" width="5" height="41" fill="#ff0000"/>
<rect x="834.0" y="1190" width="5" height="45" fill="#ff0000"/>
<rect x="841.0" y="1191" width="5" height="44" fill="#ff0000"/>
<rect x="848.0" y="1195" width="5" height="40" fill="#006400"/>
<rect x="856.0" y="1184" width="5" height="51" fill="#ff0000"/>
<rect x="863.0" y="1204" width="5" height="31" fill="#006400"/>
<rect x="870.0" y="1191" width="5" height="44" fill="#ff0000"/>
<rect x="877.0" y="1208" width="5" height="27" fill="#ff0000"/>
<rect x="884.0" y="1220" width="5" height="15" fill="#ff0000"/>
<rect x="891.0" y="1215" width="5" height="20" fill="#006400"/>
<rect x="898.0" y="1207" width="5" height="28" fill="#006400"/>
<rect x="905.0" y="1207" width="5" height="28" fill="#ff0000"/>
<rect x="912.0" y="1204" width="5" height="31" fill="#006400"/>
<rect x="919.0" y="1203" width="5" height="32" fill="#006400"/>
<rect x="926.0" y="1195" width="5" height="40" fill="#006400"/>
<rect x="933.0" y="1189" width="5" height="46" fill="#006400"/>
<rect x="940.0" y="1192" width="5" height="43" fill="#006400"/>
<rect x="947.0" y="1189" width="5" height="46" fill="#ff0000"/>
<rect x="955.0" y="1203" width="5" height="32" fill="#006400"/>
<rect x="962.0" y="1201" width="5" height="34" fill="#006400"/>
<rect x="969.0" y="1206" width="5" height="29" fill="#ff0000"/>
<rect x="976.0" y="1205" width="5" height="30" fill="#006400"/>
<rect x="983.0" y="1181" width="5" height="54" fill="#ff0000"/>
<rect x="990.0" y="1173" width="5" height="62" fill="#006400"/>
<rect x="997.0" y="1202" width="5" height="33" fill="#006400"/>
<rect x="1004.0" y="1186" width="5" height="49" fill="#006400"/>
<rect x="1011.0" y="1204" width="5" height="31" fill="#ff0000"/>
<rect x="1018.0" y="1211" width="5" height="24" fill="#006400"/>
<rect x="1025.0" y="1209" width="5" height="26" fill="#ff0000"/>
<rect x="1032.0" y="1207" width="5" height="28" fill="#006400"/>
<rect x="1039.0" y="1208" width="5" height="27" fill="#ff0000"/>
<rect x="1046.0" y="1186" width="5" height="49" fill="#006400"/>
<rect x="1053.0" y="1190" width="5" height="45" fill="#006400"/>
<rect x="1061.0" y="1190" width="5" height="45" fill="#ff0000"/>
<rect x="1068.0" y="1184" width="5" height="51" fill="#006400"/>
<rect x="1075.0" y="1209" width="5" height="26" fill="#006400"/>
<rect x="1082.0" y="1196" width="5" height="39" fill="#006400"/>
<rect x="1089.0" y="1205" width="5" height="30" fill="#ff0000"/>
<rect x="1096.0" y="1203" width="5" height="32" fill="#ff0000"/>
<rect x="1103.0" y="1202" width="5" height="33" fill="#ff0000"/>
<rect x="1110.0" y="1196" width="5" height="39" fill="#006400"/>
<rect x="1117.0" y="1195" width="5" height="40" fill="#ff0000"/>
<rect x="1124.0" y="1198" width="5" height="37" fill="#006400"/>
<rect x="1131.0" y="1194" width="5" height="41" fill="#006400"/>
<rect x="1138.0" y="1191" width="5" height="44" fill="#006400"/>
<rect x="1145.0" y="1201" width="5" height="34" fill="#006400"/>
<rect x="1152.0" y="1199" width="5" height="36" fill="#006400"/>
</g>
<polyline points="52.5,542.0 66.5,541.0 80.5,540.0 94.5,538.8 108.5,537.4 122.5,536.2 136.5,534.5 151.5,532.7 165.5,530.8 179.5,528.9 193.5,527.2 207.5,525.5 221.5,523.8 235.5,522.1 249.5,520.4 278.5,515.4 313.5,511.3 341.5,508.8 377.5,505.4 405.5,502.7 433.5,500.3 447.5,498.9 480.8,495.9 511.4,493.0 541.9,488.8 558.9,486.7 584.4,483.7 609.9,480.6 626.9,478.1 640,476.5 652.5,474.8 665.1,473.3 681.4,472.3 702.7,471.0 724,469.5 745.3,468.5 772.9,466.5 795.5,463.5 815.6,461.5 836.9,459.2 865.7,457.5 900.8,455.4 928.4,452.2 957.3,449.7 992,446.8 1020.4,444.0 1041.5,441.3 1056.2,438.3 1077.2,434.1 1098.3,428.9 1119.3,423.6 1140.3,418.8 1154.5,414.9" fill="none" stroke="#ff1414" stroke-width="1" stroke-linejoin="round"/>
<polyline points="52.5,522.1 59.5,524.2 66.5,526.0 73.5,528.9 80.5,531.1 87.5,532.7 94.5,532.8 101.5,531.5 108.5,531.4 115.5,531.4 122.5,531.0 129.5,528.9 136.5,526.9 143.5,524.7 151.5,522.1 158.5,520.1 165.5,517.9 172.5,516.2 179.5,515.3 186.5,515.2 193.5,515.3 200.5,515.7 207.5,516.5 214.5,517.4 221.5,518.1 228.5,518.1 235.5,516.7 242.5,514.6 249.5,511.8 257.5,508.3 264.5,505.7 271.5,503.2 278.5,500.6 285.5,499.4 292.5,498.4 299.5,498.1 306.5,496.9 313.5,495.9 320.5,494.8 327.5,494.7 334.5,494.5 341.5,493.5 348.5,492.1 356.5,490.8 363.5,490.1 370.5,489.9 377.5,490.4 384.5,490.4 391.5,489.6 398.5,488.4 405.5,488.4 412.5,488.4 419.5,488.2 426.5,488.7 433.5,490.4 440.5,490.7 447.5,490.3 455.5,489.9 462.5,489.9 469.5,490.5 476.5,489.9 483.5,488.8 490.5,486.7 497.5,486.7 504.5,486.2 511.5,485.4 518.5,485.0 525.5,485.4 532.5,485.4 539.5,485.7 546.5,486.2 554.5,486.7 561.5,487.1 568.5,486.7 575.5,486.7 582.5,486.7 589.5,485.9 596.5,484.5 603.5,483.3 610.5,482.3 617.5,479.1 624.5,474.3 631.5,470.1 638.5,467.2 645.5,465.0 652.5,461.5 660.5,454.7 667.5,449.4 674.5,444.7 681.5,440.6 688.5,437.4 695.5,434.1 702.5,430.9 709.5,425.8 716.5,421.1 723.5,418.5 730.5,417.1 737.5,415.5 744.5,414.3 751.5,412.1 759.5,409.4 766.5,407.4 773.5,406.5 780.5,403.0 787.5,399.0 794.5,395.3 801.5,391.4 808.5,388.0 815.5,383.2 822.5,378.1 829.5,374.4 836.5,371.3 843.5,369.1 850.5,366.0 858.5,364.0 865.5,362.1 872.5,360.6 879.5,359.7 886.5,358.9 893.5,357.9 900.5,355.8 907.5,354.1 914.5,352.4 921.5,349.9 928.5,347.3 935.5,344.3 942.5,341.4 949.5,340.0 957.5,337.2 964.5,333.8 971.5,330.4 978.5,326.4 985.5,327.8 992.5,327.0 999.5,324.4 1006.5,322.0 1013.5,320.5 1020.5,319.0 1027.5,317.3 1034.5,315.4 1041.5,313.7 1048.5,309.2 1055.5,304.6 1063.5,299.9 1070.5,295.9 1077.5,291.7 1084.5,285.8 1091.5,280.6 1098.5,275.7 1105.5,271.3 1112.5,266.9 1119.5,262.1 1126.5,257.0 1133.5,251.3 1140.5,245.0 1147.5,237.7 1154.5,229.7" fill="none" stroke="#14d014" stroke-width="1" stroke-linejoin="round"/>
<g shape-rendering="crispEdges">
<rect x="52" y="568" width="1" height="19" fill="#000"/>
<rect x="49" y="570" width="7" height="16" fill="#000"/>
<rect x="50" y="571" width="5" height="14" fill="#ff0000"/>
<rect x="59" y="582" width="1" height="25" fill="#000"/>
<rect x="56" y="582" width="7" height="6" fill="#000"/>
<rect x="57" y="583" width="5" height="4" fill="#00ff00"/>
<rect x="66" y="533" width="1" height="22" fill="#000"/>
<rect x="63" y="554" width="7" height="2" fill="#000"/>
<rect x="73" y="562" width="1" height="41" fill="#000"/>
<rect x="70" y="565" width="7" height="39" fill="#000"/>
<rect x="71" y="566" width="5" height="37" fill="#ff0000"/>
<rect x="80" y="574" width="1" height="24" fill="#000"/>
<rect x="77" y="580" width="7" height="10" fill="#000"/>
<rect x="78" y="581" width="5" height="8" fill="#00ff00"/>
<rect x="87" y="568" width="1" height="16" fill="#000"/>
<rect x="84" y="577" width="7" height="2" fill="#000"/>
<rect x="94" y="537" width="1" height="46" fill="#000"/>
<rect x="91" y="541" width="7" height="36" fill="#000"/>
<rect x="92" y="542" width="5" height="34" fill="#00ff00"/>
<rect x="101" y="518" width="1" height="31" fill="#000"/>
<rect x="98" y="521" width="7" height="25" fill="#000"/>
<rect x="99" y="522" width="5" height="23" fill="#00ff00"/>
<rect x="108" y="511" width="1" height="26" fill="#000"/>
<rect x="105" y="516" width="7" height="21" fill="#000"/>
<rect x="106" y="517" width="5" height="19" fill="#ff0000"/>
<rect x="115" y="523" width="1" height="21" fill="#000"/>
<rect x="112" y="526" width="7" height="19" fill="#000"/>
<rect x="113" y="527" width="5" height="17" fill="#00ff00"/>
<rect x="122" y="486" width="1" height="55" fill="#000"/>
<rect x="119" y="490" width="7" height="37" fill="#000"/>
<rect x="120" y="491" width="5" height="35" fill="#00ff00"/>
<rect x="129" y="475" width="1" height="39" fill="#000"/>
<rect x="126" y="479" width="7" height="8" fill="#000"/>
<rect x="127" y="480" width="5" height="6" fill="#00ff00"/>
<rect x="136" y="465" width="1" height="26" fill="#000"/>
<rect x="133" y="481" width="7" height="7" fill="#000"/>
<rect x="134" y="482" width="5" height="5" fill="#ff0000"/>
<rect x="143" y="464" width="1" height="28" fill="#000"/>
<rect x="140" y="474" width="7" height="19" fill="#000"/>
<rect x="141" y="475" width="5" height="17" fill="#00ff00"/>
<rect x="151" y="465" width="1" height="16" fill="#000"/>
<rect x="148" y="466" width="7" height="6" fill="#000"/>
<rect x="149" y="467" width="5" height="4" fill="#ff0000"/>
<rect x="158" y="456" width="1" height="33" fill="#000"/>
<rect x="155" y="458" width="7" height="15" fill="#000"/>
<rect x="156" y="459" width="5" height="13" fill="#ff0000"/>
<rect x="165" y="463" width="1" height="25" fill="#000"/>
<rect x="162" y="463" width="7" height="13" fill="#000"/>
<rect x="163" y="464" width="5" height="11" fill="#00ff00"/>
<rect x="172" y="461" width="1" height="19" fill="#000"/>
<rect x="169" y="461" width="7" height="12" fill="#000"/>
<rect x="170" y="462" width="5" height="10" fill="#ff0000"/>
<rect x="179" y="464" width="1" height="31" fill="#000"/>
<rect x="176" y="479" width="7" height="11" fill="#000"/>
<rect x="177" y="480" width="5" height="9" fill="#00ff00"/>
<rect x="186" y="458" width="1" height="48" fill="#000"/>
<rect x="183" y="475" width="7" height="32" fill="#000"/>
<rect x="184" y="476" width="5" height="30" fill="#ff0000"/>
<rect x="193" y="505" width="1" height="11" fill="#000"/>
<rect x="190" y="508" width="7" height="6" fill="#000"/>
<rect x="191" y="509" width="5" height="4" fill="#ff0000"/>
<rect x="200" y="514" width="1" height="11" fill="#000"/>
<rect x="197" y="518" width="7" height="3" fill="#000"/>
<rect x="198" y="519" width="5" height="1" fill="#ff0000"/>
<rect x="207" y="514" width="1" height="29" fill="#000"/>
<rect x="204" y="514" width="7" height="27" fill="#000"/>
<rect x="205" y="515" width="5" height="25" fill="#ff0000"/>
<rect x="214" y="531" width="1" height="18" fill="#000"/>
<rect x="211" y="534" width="7" height="8" fill="#000"/>
<rect x="212" y="535" width="5" height="6" fill="#00ff00"/>
<rect x="221" y="531" width="1" height="32" fill="#000"/>
<rect x="218" y="532" width="7" height="19" fill="#000"/>
<rect x="219" y="533" width="5" height="17" fill="#ff0000"/>
<rect x="228" y="505" width="1" height="38" fill="#000"/>
<rect x="225" y="505" width="7" height="39" fill="#000"/>
<rect x="226" y="506" width="5" height="37" fill="#00ff00"/>
<rect x="235" y="485" width="1" height="25" fill="#000"/>
<rect x="232" y="485" width="7" height="15" fill="#000"/>
<rect x="233" y="486" width="5" height="13" fill="#00ff00"/>
<rect x="242" y="465" width="1" height="25" fill="#000"/>
<rect x="239" y="467" width="7" height="24" fill="#000"/>
<rect x="240" y="468" width="5" height="22" fill="#00ff00"/>
<rect x="249" y="442" width="1" height="33" fill="#000"/>
<rect x="246" y="445" width="7" height="30" fill="#000"/>
<rect x="247" y="446" width="5" height="28" fill="#00ff00"/>
<rect x="257" y="424" width="1" height="25" fill="#000"/>
<rect x="254" y="436" width="7" height="14" fill="#000"/>
<rect x="255" y="437" width="5" height="12" fill="#00ff00"/>
<rect x="264" y="437" width="1" height="14" fill="#000"/>
<rect x="261" y="444" width="7" height="1" fill="#000"/>
<rect x="271" y="438" width="1" height="19" fill="#000"/>
<rect x="268" y="445" width="7" height="2" fill="#000"/>
<rect x="278" y="419" width="1" height="37" fill="#000"/>
<rect x="275" y="429" width="7" height="16" fill="#000"/>
<rect x="276" y="430" width="5" height="14" fill="#00ff00"/>
<rect x="285" y="424" width="1" height="49" fill="#000"/>
<rect x="282" y="429" width="7" height="40" fill="#000"/>
<rect x="283" y="430" width="5" height="38" fill="#ff0000"/>
<rect x="292" y="465" width="1" height="17" fill="#000"/>
<rect x="289" y="467" width="7" height="4" fill="#000"/>
<rect x="290" y="468" width="5" height="2" fill="#ff0000"/>
<rect x="299" y="475" width="1" height="23" fill="#000"/>
<rect x="296" y="476" width="7" height="10" fill="#000"/>
<rect x="297" y="477" width="5" height="8" fill="#ff0000"/>
<rect x="306" y="471" width="1" height="21" fill="#000"/>
<rect x="303" y="476" width="7" height="9" fill="#000"/>
<rect x="304" y="477" width="5" height="7" fill="#00ff00"/>
<rect x="313" y="459" width="1" height="22" fill="#000"/>
<rect x="310" y="461" width="7" height="19" fill="#000"/>
<rect x="311" y="462" width="5" height="17" fill="#00ff00"/>
<rect x="320" y="462" width="1" height="13" fill="#000"/>
<rect x="317" y="462" width="7" height="6" fill="#000"/>
<rect x="318" y="463" width="5" height="4" fill="#ff0000"/>
<rect x="327" y="486" width="1" height="20" fill="#000"/>
<rect x="324" y="486" width="7" height="21" fill="#000"/>
<rect x="325" y="487" width="5" height="19" fill="#ff0000"/>
<rect x="334" y="491" width="1" height="16" fill="#000"/>
<rect x="331" y="494" width="7" height="2" fill="#000"/>
<rect x="341" y="484" width="1" height="14" fill="#000"/>
<rect x="338" y="489" width="7" height="8" fill="#000"/>
<rect x="339" y="490" width="5" height="6" fill="#00ff00"/>
<rect x="348" y="445" width="1" height="51" fill="#000"/>
<rect x="345" y="445" width="7" height="46" fill="#000"/>
<rect x="346" y="446" width="5" height="44" fill="#00ff00"/>
<rect x="356" y="439" width="1" height="13" fill="#000"/>
<rect x="353" y="447" width="7" height="6" fill="#000"/>
<rect x="354" y="448" width="5" height="4" fill="#ff0000"/>
<rect x="363" y="442" width="1" height="23" fill="#000"/>
<rect x="360" y="458" width="7" height="3" fill="#000"/>
<rect x="361" y="459" width="5" height="1" fill="#ff0000"/>
<rect x="370" y="449" width="1" height="33" fill="#000"/>
<rect x="367" y="463" width="7" height="15" fill="#000"/>
<rect x="368" y="464" width="5" height="13" fill="#ff0000"/>
<rect x="377" y="480" width="1" height="19" fill="#000"/>
<rect x="374" y="480" width="7" height="19" fill="#000"/>
<rect x="375" y="481" width="5" height="17" fill="#ff0000"/>
<rect x="384" y="492" width="1" height="12" fill="#000"/>
<rect x="381" y="498" width="7" height="7" fill="#000"/>
<rect x="382" y="499" width="5" height="5" fill="#00ff00"/>
<rect x="391" y="460" width="1" height="36" fill="#000"/>
<rect x="388" y="463" width="7" height="34" fill="#000"/>
<rect x="389" y="464" width="5" height="32" fill="#00ff00"/>
<rect x="398" y="444" width="1" height="20" fill="#000"/>
<rect x="395" y="462" width="7" height="2" fill="#000"/>
<rect x="405" y="461" width="1" height="33" fill="#000"/>
<rect x="402" y="464" width="7" height="30" fill="#000"/>
<rect x="403" y="465" width="5" height="28" fill="#ff0000"/>
<rect x="412" y="486" width="1" height="16" fill="#000"/>
<rect x="409" y="488" width="7" height="5" fill="#000"/>
<rect x="410" y="489" width="5" height="3" fill="#00ff00"/>
<rect x="419" y="475" width="1" height="15" fill="#000"/>
<rect x="416" y="477" width="7" height="10" fill="#000"/>
<rect x="417" y="478" width="5" height="8" fill="#00ff00"/>
<rect x="426" y="477" width="1" height="31" fill="#000"/>
<rect x="423" y="477" width="7" height="32" fill="#000"/>
<rect x="424" y="478" width="5" height="30" fill="#ff0000"/>
<rect x="433" y="509" width="1" height="33" fill="#000"/>
<rect x="430" y="510" width="7" height="15" fill="#000"/>
<rect x="431" y="511" width="5" height="13" fill="#ff0000"/>
<rect x="440" y="497" width="1" height="24" fill="#000"/>
<rect x="437" y="497" width="7" height="23" fill="#000"/>
<rect x="438" y="498" width="5" height="21" fill="#00ff00"/>
<rect x="447" y="477" width="1" height="23" fill="#000"/>
<rect x="444" y="483" width="7" height="18" fill="#000"/>
<rect x="445" y="484" width="5" height="16" fill="#00ff00"/>
<rect x="455" y="485" width="1" height="16" fill="#000"/>
<rect x="452" y="486" width="7" height="11" fill="#000"/>
<rect x="453" y="487" width="5" height="9" fill="#ff0000"/>
<rect x="462" y="477" width="1" height="25" fill="#000"/>
<rect x="459" y="486" width="7" height="2" fill="#000"/>
<rect x="469" y="485" width="1" height="23" fill="#000"/>
<rect x="466" y="487" width="7" height="22" fill="#000"/>
<rect x="467" y="488" width="5" height="20" fill="#ff0000"/>
<rect x="476" y="465" width="1" height="48" fill="#000"/>
<rect x="473" y="473" width="7" height="39" fill="#000"/>
<rect x="474" y="474" width="5" height="37" fill="#00ff00"/>
<rect x="483" y="461" width="1" height="21" fill="#000"/>
<rect x="480" y="461" width="7" height="20" fill="#000"/>
<rect x="481" y="462" width="5" height="18" fill="#00ff00"/>
<rect x="490" y="433" width="1" height="23" fill="#000"/>
<rect x="487" y="434" width="7" height="17" fill="#000"/>
<rect x="488" y="435" width="5" height="15" fill="#00ff00"/>
<rect x="497" y="425" width="1" height="66" fill="#000"/>
<rect x="494" y="432" width="7" height="60" fill="#000"/>
<rect x="495" y="433" width="5" height="58" fill="#ff0000"/>
<rect x="504" y="464" width="1" height="38" fill="#000"/>
<rect x="501" y="471" width="7" height="20" fill="#000"/>
<rect x="502" y="472" width="5" height="18" fill="#00ff00"/>
<rect x="511" y="455" width="1" height="17" fill="#000"/>
<rect x="508" y="462" width="7" height="11" fill="#000"/>
<rect x="509" y="463" width="5" height="9" fill="#00ff00"/>
<rect x="518" y="457" width="1" height="22" fill="#000"/>
<rect x="515" y="462" width="7" height="11" fill="#000"/>
<rect x="516" y="463" width="5" height="9" fill="#ff0000"/>
<rect x="525" y="467" width="1" height="31" fill="#000"/>
<rect x="522" y="472" width="7" height="17" fill="#000"/>
<rect x="523" y="473" width="5" height="15" fill="#ff0000"/>
<rect x="532" y="482" width="1" height="20" fill="#000"/>
<rect x="529" y="487" width="7" height="5" fill="#000"/>
<rect x="530" y="488" width="5" height="3" fill="#00ff00"/>
<rect x="539" y="492" width="1" height="11" fill="#000"/>
<rect x="536" y="492" width="7" height="9" fill="#000"/>
<rect x="537" y="493" width="5" height="7" fill="#ff0000"/>
<rect x="546" y="493" width="1" height="23" fill="#000"/>
<rect x="543" y="496" width="7" height="18" fill="#000"/>
<rect x="544" y="497" width="5" height="16" fill="#00ff00"/>
<rect x="554" y="485" width="1" height="17" fill="#000"/>
<rect x="551" y="493" width="7" height="6" fill="#000"/>
<rect x="552" y="494" width="5" height="4" fill="#ff0000"/>
<rect x="561" y="497" width="1" height="13" fill="#000"/>
<rect x="558" y="501" width="7" height="2" fill="#000"/>
<rect x="568" y="481" width="1" height="35" fill="#000"/>
<rect x="565" y="481" width="7" height="19" fill="#000"/>
<rect x="566" y="482" width="5" height="17" fill="#00ff00"/>
<rect x="575" y="480" width="1" height="17" fill="#000"/>
<rect x="572" y="487" width="7" height="5" fill="#000"/>
<rect x="573" y="488" width="5" height="3" fill="#ff0000"/>
<rect x="582" y="485" width="1" height="24" fill="#000"/>
<rect x="579" y="487" width="7" height="14" fill="#000"/>
<rect x="580" y="488" width="5" height="12" fill="#00ff00"/>
<rect x="589" y="457" width="1" height="34" fill="#000"/>
<rect x="586" y="461" width="7" height="27" fill="#000"/>
<rect x="587" y="462" width="5" height="25" fill="#00ff00"/>
<rect x="596" y="436" width="1" height="29" fill="#000"/>
<rect x="593" y="441" width="7" height="20" fill="#000"/>
<rect x="594" y="442" width="5" height="18" fill="#00ff00"/>
<rect x="603" y="429" width="1" height="24" fill="#000"/>
<rect x="600" y="442" width="7" height="12" fill="#000"/>
<rect x="601" y="443" width="5" height="10" fill="#ff0000"/>
<rect x="610" y="448" width="1" height="12" fill="#000"/>
<rect x="607" y="450" width="7" height="1" fill="#000"/>
<rect x="617" y="391" width="1" height="60" fill="#000"/>
<rect x="614" y="392" width="7" height="49" fill="#000"/>
<rect x="615" y="393" width="5" height="47" fill="#00ff00"/>
<rect x="624" y="337" width="1" height="50" fill="#000"/>
<rect x="621" y="372" width="7" height="11" fill="#000"/>
<rect x="622" y="373" width="5" height="9" fill="#00ff00"/>
<rect x="631" y="360" width="1" height="24" fill="#000"/>
<rect x="628" y="360" width="7" height="13" fill="#000"/>
<rect x="629" y="361" width="5" height="11" fill="#00ff00"/>
<rect x="638" y="384" width="1" height="16" fill="#000"/>
<rect x="635" y="395" width="7" height="2" fill="#000"/>
<rect x="645" y="391" width="1" height="32" fill="#000"/>
<rect x="642" y="396" width="7" height="18" fill="#000"/>
<rect x="643" y="397" width="5" height="16" fill="#ff0000"/>
<rect x="652" y="365" width="1" height="37" fill="#000"/>
<rect x="649" y="372" width="7" height="31" fill="#000"/>
<rect x="650" y="373" width="5" height="29" fill="#00ff00"/>
<rect x="660" y="297" width="1" height="80" fill="#000"/>
<rect x="657" y="309" width="7" height="69" fill="#000"/>
<rect x="658" y="310" width="5" height="67" fill="#00ff00"/>
<rect x="667" y="277" width="1" height="54" fill="#000"/>
<rect x="664" y="311" width="7" height="16" fill="#000"/>
<rect x="665" y="312" width="5" height="14" fill="#ff0000"/>
<rect x="674" y="281" width="1" height="45" fill="#000"/>
<rect x="671" y="298" width="7" height="29" fill="#000"/>
<rect x="672" y="299" width="5" height="27" fill="#ff0000"/>
<rect x="681" y="299" width="1" height="51" fill="#000"/>
<rect x="678" y="323" width="7" height="26" fill="#000"/>
<rect x="679" y="324" width="5" height="24" fill="#ff0000"/>
<rect x="688" y="329" width="1" height="32" fill="#000"/>
<rect x="685" y="342" width="7" height="5" fill="#000"/>
<rect x="686" y="343" width="5" height="3" fill="#ff0000"/>
<rect x="695" y="315" width="1" height="43" fill="#000"/>
<rect x="692" y="343" width="7" height="6" fill="#000"/>
<rect x="693" y="344" width="5" height="4" fill="#00ff00"/>
<rect x="702" y="342" width="1" height="24" fill="#000"/>
<rect x="699" y="344" width="7" height="7" fill="#000"/>
<rect x="700" y="345" width="5" height="5" fill="#ff0000"/>
<rect x="709" y="300" width="1" height="57" fill="#000"/>
<rect x="706" y="302" width="7" height="52" fill="#000"/>
<rect x="707" y="303" width="5" height="50" fill="#00ff00"/>
<rect x="716" y="295" width="1" height="29" fill="#000"/>
<rect x="713" y="306" width="7" height="8" fill="#000"/>
<rect x="714" y="307" width="5" height="6" fill="#ff0000"/>
<rect x="723" y="304" width="1" height="55" fill="#000"/>
<rect x="720" y="317" width="7" height="38" fill="#000"/>
<rect x="721" y="318" width="5" height="36" fill="#ff0000"/>
<rect x="730" y="352" width="1" height="37" fill="#000"/>
<rect x="727" y="352" width="7" height="30" fill="#000"/>
<rect x="728" y="353" width="5" height="28" fill="#ff0000"/>
<rect x="737" y="357" width="1" height="36" fill="#000"/>
<rect x="734" y="373" width="7" height="5" fill="#000"/>
<rect x="735" y="374" width="5" height="3" fill="#00ff00"/>
<rect x="744" y="365" width="1" height="43" fill="#000"/>
<rect x="741" y="374" width="7" height="17" fill="#000"/>
<rect x="742" y="375" width="5" height="15" fill="#ff0000"/>
<rect x="751" y="361" width="1" height="35" fill="#000"/>
<rect x="748" y="361" width="7" height="22" fill="#000"/>
<rect x="749" y="362" width="5" height="20" fill="#00ff00"/>
<rect x="759" y="334" width="1" height="23" fill="#000"/>
<rect x="756" y="338" width="7" height="13" fill="#000"/>
<rect x="757" y="339" width="5" height="11" fill="#00ff00"/>
<rect x="766" y="331" width="1" height="31" fill="#000"/>
<rect x="763" y="331" width="7" height="32" fill="#000"/>
<rect x="764" y="332" width="5" height="30" fill="#ff0000"/>
<rect x="773" y="361" width="1" height="25" fill="#000"/>
<rect x="770" y="370" width="7" height="13" fill="#000"/>
<rect x="771" y="371" width="5" height="11" fill="#ff0000"/>
<rect x="780" y="316" width="1" height="62" fill="#000"/>
<rect x="777" y="317" width="7" height="60" fill="#000"/>
<rect x="778" y="318" width="5" height="58" fill="#00ff00"/>
<rect x="787" y="306" width="1" height="27" fill="#000"/>
<rect x="784" y="306" width="7" height="8" fill="#000"/>
<rect x="785" y="307" width="5" height="6" fill="#00ff00"/>
<rect x="794" y="272" width="1" height="47" fill="#000"/>
<rect x="791" y="299" width="7" height="21" fill="#000"/>
<rect x="792" y="300" width="5" height="19" fill="#00ff00"/>
<rect x="801" y="269" width="1" height="41" fill="#000"/>
<rect x="798" y="285" width="7" height="13" fill="#000"/>
<rect x="799" y="286" width="5" height="11" fill="#00ff00"/>
<rect x="808" y="294" width="1" height="32" fill="#000"/>
<rect x="805" y="297" width="7" height="3" fill="#000"/>
<rect x="806" y="298" width="5" height="1" fill="#ff0000"/>
<rect x="815" y="250" width="1" height="60" fill="#000"/>
<rect x="812" y="265" width="7" height="42" fill="#000"/>
<rect x="813" y="266" width="5" height="40" fill="#00ff00"/>
<rect x="822" y="224" width="1" height="37" fill="#000"/>
<rect x="819" y="246" width="7" height="7" fill="#000"/>
<rect x="820" y="247" width="5" height="5" fill="#ff0000"/>
<rect x="829" y="234" width="1" height="46" fill="#000"/>
<rect x="826" y="248" width="7" height="29" fill="#000"/>
<rect x="827" y="249" width="5" height="27" fill="#ff0000"/>
<rect x="836" y="273" width="1" height="38" fill="#000"/>
<rect x="833" y="277" width="7" height="26" fill="#000"/>
<rect x="834" y="278" width="5" height="24" fill="#ff0000"/>
<rect x="843" y="308" width="1" height="32" fill="#000"/>
<rect x="840" y="308" width="7" height="18" fill="#000"/>
<rect x="841" y="309" width="5" height="16" fill="#ff0000"/>
<rect x="850" y="300" width="1" height="17" fill="#000"/>
<rect x="847" y="303" width="7" height="5" fill="#000"/>
<rect x="848" y="304" width="5" height="3" fill="#00ff00"/>
<rect x="858" y="312" width="1" height="30" fill="#000"/>
<rect x="855" y="315" width="7" height="4" fill="#000"/>
<rect x="856" y="316" width="5" height="2" fill="#ff0000"/>
<rect x="865" y="299" width="1" height="31" fill="#000"/>
<rect x="862" y="306" width="7" height="17" fill="#000"/>
<rect x="863" y="307" width="5" height="15" fill="#00ff00"/>
<rect x="872" y="271" width="1" height="50" fill="#000"/>
<rect x="869" y="301" width="7" height="18" fill="#000"/>
<rect x="870" y="302" width="5" height="16" fill="#ff0000"/>
<rect x="879" y="315" width="1" height="45" fill="#000"/>
<rect x="876" y="315" width="7" height="27" fill="#000"/>
<rect x="877" y="316" width="5" height="25" fill="#ff0000"/>
<rect x="886" y="330" width="1" height="14" fill="#000"/>
<rect x="883" y="335" width="7" height="7" fill="#000"/>
<rect x="884" y="336" width="5" height="5" fill="#ff0000"/>
<rect x="893" y="331" width="1" height="27" fill="#000"/>
<rect x="890" y="337" width="7" height="5" fill="#000"/>
<rect x="891" y="338" width="5" height="3" fill="#00ff00"/>
<rect x="900" y="298" width="1" height="37" fill="#000"/>
<rect x="897" y="308" width="7" height="18" fill="#000"/>
<rect x="898" y="309" width="5" height="16" fill="#00ff00"/>
<rect x="907" y="295" width="1" height="37" fill="#000"/>
<rect x="904" y="312" width="7" height="16" fill="#000"/>
<rect x="905" y="313" width="5" height="14" fill="#00ff00"/>
<rect x="914" y="303" width="1" height="22" fill="#000"/>
<rect x="911" y="310" width="7" height="6" fill="#000"/>
<rect x="912" y="311" width="5" height="4" fill="#00ff00"/>
<rect x="921" y="271" width="1" height="56" fill="#000"/>
<rect x="918" y="285" width="7" height="43" fill="#000"/>
<rect x="919" y="286" width="5" height="41" fill="#00ff00"/>
<rect x="928" y="268" width="1" height="29" fill="#000"/>
<rect x="925" y="280" width="7" height="6" fill="#000"/>
<rect x="926" y="281" width="5" height="4" fill="#00ff00"/>
<rect x="935" y="241" width="1" height="56" fill="#000"/>
<rect x="932" y="270" width="7" height="12" fill="#000"/>
<rect x="933" y="271" width="5" height="10" fill="#00ff00"/>
<rect x="942" y="253" width="1" height="18" fill="#000"/>
<rect x="939" y="266" width="7" height="6" fill="#000"/>
<rect x="940" y="267" width="5" height="4" fill="#00ff00"/>
<rect x="949" y="269" width="1" height="41" fill="#000"/>
<rect x="946" y="269" width="7" height="38" fill="#000"/>
<rect x="947" y="270" width="5" height="36" fill="#ff0000"/>
<rect x="957" y="264" width="1" height="39" fill="#000"/>
<rect x="954" y="276" width="7" height="26" fill="#000"/>
<rect x="955" y="277" width="5" height="24" fill="#00ff00"/>
<rect x="964" y="230" width="1" height="57" fill="#000"/>
<rect x="961" y="239" width="7" height="33" fill="#000"/>
<rect x="962" y="240" width="5" height="31" fill="#00ff00"/>
<rect x="971" y="230" width="1" height="29" fill="#000"/>
<rect x="968" y="242" width="7" height="18" fill="#000"/>
<rect x="969" y="243" width="5" height="16" fill="#ff0000"/>
<rect x="978" y="214" width="1" height="46" fill="#000"/>
<rect x="975" y="228" width="7" height="28" fill="#000"/>
<rect x="976" y="229" width="5" height="26" fill="#00ff00"/>
<rect x="985" y="220" width="1" height="133" fill="#000"/>
<rect x="982" y="226" width="7" height="128" fill="#000"/>
<rect x="983" y="227" width="5" height="126" fill="#ff0000"/>
<rect x="992" y="292" width="1" height="80" fill="#000"/>
<rect x="989" y="292" width="7" height="77" fill="#000"/>
<rect x="990" y="293" width="5" height="75" fill="#00ff00"/>
<rect x="999" y="265" width="1" height="27" fill="#000"/>
<rect x="996" y="278" width="7" height="15" fill="#000"/>
<rect x="997" y="279" width="5" height="13" fill="#00ff00"/>
<rect x="1006" y="250" width="1" height="28" fill="#000"/>
<rect x="1003" y="265" width="7" height="9" fill="#000"/>
<rect x="1004" y="266" width="5" height="7" fill="#00ff00"/>
<rect x="1013" y="254" width="1" height="42" fill="#000"/>
<rect x="1010" y="265" width="7" height="24" fill="#000"/>
<rect x="1011" y="266" width="5" height="22" fill="#ff0000"/>
<rect x="1020" y="261" width="1" height="29" fill="#000"/>
<rect x="1017" y="273" width="7" height="18" fill="#000"/>
<rect x="1018" y="274" width="5" height="16" fill="#00ff00"/>
<rect x="1027" y="261" width="1" height="30" fill="#000"/>
<rect x="1024" y="275" width="7" height="10" fill="#000"/>
<rect x="1025" y="276" width="5" height="8" fill="#ff0000"/>
<rect x="1034" y="252" width="1" height="35" fill="#000"/>
<rect x="1031" y="255" width="7" height="24" fill="#000"/>
<rect x="1032" y="256" width="5" height="22" fill="#00ff00"/>
<rect x="1041" y="255" width="1" height="19" fill="#000"/>
<rect x="1038" y="260" width="7" height="9" fill="#000"/>
<rect x="1039" y="261" width="5" height="7" fill="#ff0000"/>
<rect x="1048" y="190" width="1" height="65" fill="#000"/>
<rect x="1045" y="197" width="7" height="59" fill="#000"/>
<rect x="1046" y="198" width="5" height="57" fill="#00ff00"/>
<rect x="1055" y="182" width="1" height="22" fill="#000"/>
<rect x="1052" y="182" width="7" height="10" fill="#000"/>
<rect x="1053" y="183" width="5" height="8" fill="#ff0000"/>
<rect x="1063" y="169" width="1" height="35" fill="#000"/>
<rect x="1060" y="192" width="7" height="7" fill="#000"/>
<rect x="1061" y="193" width="5" height="5" fill="#ff0000"/>
<rect x="1070" y="180" width="1" height="28" fill="#000"/>
<rect x="1067" y="194" width="7" height="4" fill="#000"/>
<rect x="1068" y="195" width="5" height="2" fill="#ff0000"/>
<rect x="1077" y="177" width="1" height="38" fill="#000"/>
<rect x="1074" y="180" width="7" height="21" fill="#000"/>
<rect x="1075" y="181" width="5" height="19" fill="#00ff00"/>
<rect x="1084" y="132" width="1" height="64" fill="#000"/>
<rect x="1081" y="137" width="7" height="37" fill="#000"/>
<rect x="1082" y="138" width="5" height="35" fill="#00ff00"/>
<rect x="1091" y="127" width="1" height="34" fill="#000"/>
<rect x="1088" y="128" width="7" height="21" fill="#000"/>
<rect x="1089" y="129" width="5" height="19" fill="#ff0000"/>
<rect x="1098" y="121" width="1" height="32" fill="#000"/>
<rect x="1095" y="130" width="7" height="20" fill="#000"/>
<rect x="1096" y="131" width="5" height="18" fill="#ff0000"/>
<rect x="1105" y="147" width="1" height="44" fill="#000"/>
<rect x="1102" y="150" width="7" height="31" fill="#000"/>
<rect x="1103" y="151" width="5" height="29" fill="#ff0000"/>
<rect x="1112" y="139" width="1" height="33" fill="#000"/>
<rect x="1109" y="143" width="7" height="30" fill="#000"/>
<rect x="1110" y="144" width="5" height="28" fill="#00ff00"/>
<rect x="1119" y="141" width="1" height="23" fill="#000"/>
<rect x="1116" y="152" width="7" height="4" fill="#000"/>
<rect x="1117" y="153" width="5" height="2" fill="#ff0000"/>
<rect x="1126" y="130" width="1" height="42" fill="#000"/>
<rect x="1123" y="130" width="7" height="25" fill="#000"/>
<rect x="1124" y="131" width="5" height="23" fill="#00ff00"/>
<rect x="1133" y="101" width="1" height="49" fill="#000"/>
<rect x="1130" y="103" width="7" height="33" fill="#000"/>
<rect x="1131" y="104" width="5" height="31" fill="#00ff00"/>
<rect x="1140" y="69" width="1" height="34" fill="#000"/>
<rect x="1137" y="83" width="7" height="21" fill="#000"/>
<rect x="1138" y="84" width="5" height="19" fill="#00ff00"/>
<rect x="1147" y="54" width="1" height="35" fill="#000"/>
<rect x="1144" y="54" width="7" height="29" fill="#000"/>
<rect x="1145" y="55" width="5" height="27" fill="#00ff00"/>
<rect x="1154" y="43" width="1" height="32" fill="#000"/>
<rect x="1151" y="50" width="7" height="9" fill="#000"/>
<rect x="1152" y="51" width="5" height="7" fill="#00ff00"/>
</g>
</svg>
<div style="position:absolute;left:9px;top:0px;font-size:13px;font-weight:bold;color:#000;line-height:16px;white-space:nowrap">SI - Silver - Weekly Nearest Candlestick Chart</div>
<div style="position:absolute;left:1191px;top:44px;width:34px;height:13px;background:#000;color:#fff;font-size:11px;line-height:13px;white-space:nowrap">42.536</div>
<div style="position:absolute;left:53px;top:24px;width:6px;height:6px;border:1px solid #000;background:#00ff00"></div>
<div style="position:absolute;top:19.5px;height:16px;line-height:16px;font-size:11px;white-space:nowrap;color:#000;left:65px;">Op:42.210, Hi:42.865, Lo:41.495, Cl:42.536</div>
<div style="position:absolute;left:302px;top:24px;width:6px;height:6px;border:1px solid #000;background:#f00000"></div>
<div style="position:absolute;top:19.5px;height:16px;line-height:16px;font-size:11px;white-space:nowrap;color:#000;left:314px;">SMA (200): 26.388</div>
<div style="position:absolute;left:430px;top:24px;width:6px;height:6px;border:1px solid #000;background:#00c800"></div>
<div style="position:absolute;top:19.5px;height:16px;line-height:16px;font-size:11px;white-space:nowrap;color:#000;left:442px;">EXPMA (50): 34.610</div>
<div style="position:absolute;left:53px;top:633px;width:6px;height:6px;border:1px solid #000;background:#006400"></div>
<div style="position:absolute;top:628.5px;height:16px;line-height:16px;font-size:11px;white-space:nowrap;color:#000;left:65px;">Large Spec: 51538</div>
<div style="position:absolute;left:182px;top:633px;width:6px;height:6px;border:1px solid #000;background:#00008b"></div>
<div style="position:absolute;top:628.5px;height:16px;line-height:16px;font-size:11px;white-space:nowrap;color:#000;left:194px;">Small Spec: 19851</div>
<div style="position:absolute;left:310px;top:633px;width:6px;height:6px;border:1px solid #000;background:#c80000"></div>
<div style="position:absolute;top:628.5px;height:16px;line-height:16px;font-size:11px;white-space:nowrap;color:#000;left:322px;">Commercials: -71389</div>
<div style="position:absolute;left:53px;top:836px;width:6px;height:6px;border:1px solid #000;background:#c80000"></div>
<div style="position:absolute;top:831.5px;height:16px;line-height:16px;font-size:11px;white-space:nowrap;color:#000;left:65px;">Producers: -27925</div>
<div style="position:absolute;left:179px;top:836px;width:6px;height:6px;border:1px solid #000;background:#006400"></div>
<div style="position:absolute;top:831.5px;height:16px;line-height:16px;font-size:11px;white-space:nowrap;color:#000;left:191px;">Swap Dealers: -43464</div>
<div style="position:absolute;left:324px;top:836px;width:6px;height:6px;border:1px solid #000;background:#00008b"></div>
<div style="position:absolute;top:831.5px;height:16px;line-height:16px;font-size:11px;white-space:nowrap;color:#000;left:336px;">Managed Money: 35806</div>
<div style="position:absolute;left:479px;top:836px;width:6px;height:6px;border:1px solid #000;background:#ff9800"></div>
<div style="position:absolute;top:831.5px;height:16px;line-height:16px;font-size:11px;white-space:nowrap;color:#000;left:491px;">Other Report: 15732</div>
<div style="position:absolute;left:53px;top:1039px;width:6px;height:6px;border:1px solid #000;background:#006400"></div>
<div style="position:absolute;top:1034.5px;height:16px;line-height:16px;font-size:11px;white-space:nowrap;color:#000;left:65px;">Vol: 71,242</div>
<div style="position:absolute;left:145px;top:1039px;width:6px;height:6px;border:1px solid #000;background:#a000ff"></div>
<div style="position:absolute;top:1034.5px;height:16px;line-height:16px;font-size:11px;white-space:nowrap;color:#000;left:157px;">Open Interest: 161,805</div>
<div style="position:absolute;top:605px;height:16px;line-height:16px;font-size:11px;white-space:nowrap;color:#000;left:60px;">© Barchart.com</div>
<div style="position:absolute;left:0;top:0;width:1236px;height:1276px;will-change:transform">
<div style="position:absolute;top:54.5px;height:16px;line-height:16px;font-size:11px;white-space:nowrap;color:#000;left:1191px;">42.000</div>
<div style="position:absolute;top:76.5px;height:16px;line-height:16px;font-size:11px;white-space:nowrap;color:#000;left:1191px;">41.000</div>
<div style="position:absolute;top:99.5px;height:16px;line-height:16px;font-size:11px;white-space:nowrap;color:#000;left:1191px;">40.000</div>
<div style="position:absolute;top:121.5px;height:16px;line-height:16px;font-size:11px;white-space:nowrap;color:#000;left:1191px;">39.000</div>
<div style="position:absolute;top:144.5px;height:16px;line-height:16px;font-size:11px;white-space:nowrap;color:#000;left:1191px;">38.000</div>
<div style="position:absolute;top:166.5px;height:16px;line-height:16px;font-size:11px;white-space:nowrap;color:#000;left:1191px;">37.000</div>
<div style="position:absolute;top:189.5px;height:16px;line-height:16px;font-size:11px;white-space:nowrap;color:#000;left:1191px;">36.000</div>
<div style="position:absolute;top:211.5px;height:16px;line-height:16px;font-size:11px;white-space:nowrap;color:#000;left:1191px;">35.000</div>
<div style="position:absolute;top:234.5px;height:16px;line-height:16px;font-size:11px;white-space:nowrap;color:#000;left:1191px;">34.000</div>
<div style="position:absolute;top:256.5px;height:16px;line-height:16px;font-size:11px;white-space:nowrap;color:#000;left:1191px;">33.000</div>
<div style="position:absolute;top:279.5px;height:16px;line-height:16px;font-size:11px;white-space:nowrap;color:#000;left:1191px;">32.000</div>
<div style="position:absolute;top:302.5px;height:16px;line-height:16px;font-size:11px;white-space:nowrap;color:#000;left:1191px;">31.000</div>
<div style="position:absolute;top:324.5px;height:16px;line-height:16px;font-size:11px;white-space:nowrap;color:#000;left:1191px;">30.000</div>
<div style="position:absolute;top:347.5px;height:16px;line-height:16px;font-size:11px;white-space:nowrap;color:#000;left:1191px;">29.000</div>
<div style="position:absolute;top:369.5px;height:16px;line-height:16px;font-size:11px;white-space:nowrap;color:#000;left:1191px;">28.000</div>
<div style="position:absolute;top:392.5px;height:16px;line-height:16px;font-size:11px;white-space:nowrap;color:#000;left:1191px;">27.000</div>
<div style="position:absolute;top:414.5px;height:16px;line-height:16px;font-size:11px;white-space:nowrap;color:#000;left:1191px;">26.000</div>
<div style="position:absolute;top:437.5px;height:16px;line-height:16px;font-size:11px;white-space:nowrap;color:#000;left:1191px;">25.000</div>
<div style="position:absolute;top:459.5px;height:16px;line-height:16px;font-size:11px;white-space:nowrap;color:#000;left:1191px;">24.000</div>
<div style="position:absolute;top:482.5px;height:16px;line-height:16px;font-size:11px;white-space:nowrap;color:#000;left:1191px;">23.000</div>
<div style="position:absolute;top:504.5px;height:16px;line-height:16px;font-size:11px;white-space:nowrap;color:#000;left:1191px;">22.000</div>
<div style="position:absolute;top:527.5px;height:16px;line-height:16px;font-size:11px;white-space:nowrap;color:#000;left:1191px;">21.000</div>
<div style="position:absolute;top:549.5px;height:16px;line-height:16px;font-size:11px;white-space:nowrap;color:#000;left:1191px;">20.000</div>
<div style="position:absolute;top:572.5px;height:16px;line-height:16px;font-size:11px;white-space:nowrap;color:#000;left:1191px;">19.000</div>
<div style="position:absolute;top:594.5px;height:16px;line-height:16px;font-size:11px;white-space:nowrap;color:#000;left:1191px;">18.000</div>
<div style="position:absolute;top:617.5px;height:16px;line-height:16px;font-size:11px;white-space:nowrap;color:#000;left:1191px;">17.000</div>
<div style="position:absolute;top:640.5px;height:16px;line-height:16px;font-size:11px;white-space:nowrap;color:#000;left:1191px;">80000</div>
<div style="position:absolute;top:660.5px;height:16px;line-height:16px;font-size:11px;white-space:nowrap;color:#000;left:1191px;">60000</div>
<div style="position:absolute;top:680.5px;height:16px;line-height:16px;font-size:11px;white-space:nowrap;color:#000;left:1191px;">40000</div>
<div style="position:absolute;top:700.5px;height:16px;line-height:16px;font-size:11px;white-space:nowrap;color:#000;left:1191px;">20000</div>
<div style="position:absolute;top:720.5px;height:16px;line-height:16px;font-size:11px;white-space:nowrap;color:#000;left:1191px;">0</div>
<div style="position:absolute;top:740.5px;height:16px;line-height:16px;font-size:11px;white-space:nowrap;color:#000;left:1191px;">-20000</div>
<div style="position:absolute;top:760.5px;height:16px;line-height:16px;font-size:11px;white-space:nowrap;color:#000;left:1191px;">-40000</div>
<div style="position:absolute;top:780.5px;height:16px;line-height:16px;font-size:11px;white-space:nowrap;color:#000;left:1191px;">-60000</div>
<div style="position:absolute;top:800.5px;height:16px;line-height:16px;font-size:11px;white-space:nowrap;color:#000;left:1191px;">-80000</div>
<div style="position:absolute;top:820.5px;height:16px;line-height:16px;font-size:11px;white-space:nowrap;color:#000;left:1191px;">-100000</div>
<div style="position:absolute;top:843.5px;height:16px;line-height:16px;font-size:11px;white-space:nowrap;color:#000;left:1191px;">60000</div>
<div style="position:absolute;top:873.5px;height:16px;line-height:16px;font-size:11px;white-space:nowrap;color:#000;left:1191px;">40000</div>
<div style="position:absolute;top:903.5px;height:16px;line-height:16px;font-size:11px;white-space:nowrap;color:#000;left:1191px;">20000</div>
<div style="position:absolute;top:933.5px;height:16px;line-height:16px;font-size:11px;white-space:nowrap;color:#000;left:1191px;">0</div>
<div style="position:absolute;top:963.5px;height:16px;line-height:16px;font-size:11px;white-space:nowrap;color:#000;left:1191px;">-20000</div>
<div style="position:absolute;top:993.5px;height:16px;line-height:16px;font-size:11px;white-space:nowrap;color:#000;left:1191px;">-40000</div>
<div style="position:absolute;top:1023.5px;height:16px;line-height:16px;font-size:11px;white-space:nowrap;color:#000;left:1191px;">-60000</div>
<div style="position:absolute;top:1046.5px;height:16px;line-height:16px;font-size:11px;white-space:nowrap;color:#000;left:1191px;">190K</div>
<div style="position:absolute;top:1069.5px;height:16px;line-height:16px;font-size:11px;white-space:nowrap;color:#000;left:1191px;">180K</div>
<div style="position:absolute;top:1091.5px;height:16px;line-height:16px;font-size:11px;white-space:nowrap;color:#000;left:1191px;">170K</div>
<div style="position:absolute;top:1114.5px;height:16px;line-height:16px;font-size:11px;white-space:nowrap;color:#000;left:1191px;">160K</div>
<div style="position:absolute;top:1136.5px;height:16px;line-height:16px;font-size:11px;white-space:nowrap;color:#000;left:1191px;">150K</div>
<div style="position:absolute;top:1159.5px;height:16px;line-height:16px;font-size:11px;white-space:nowrap;color:#000;left:1191px;">140K</div>
<div style="position:absolute;top:1181.5px;height:16px;line-height:16px;font-size:11px;white-space:nowrap;color:#000;left:1191px;">130K</div>
<div style="position:absolute;top:1204.5px;height:16px;line-height:16px;font-size:11px;white-space:nowrap;color:#000;left:1191px;">120K</div>
<div style="position:absolute;top:1226.5px;height:16px;line-height:16px;font-size:11px;white-space:nowrap;color:#000;left:1191px;">110K</div>
<div style="position:absolute;top:1126.5px;height:16px;line-height:16px;font-size:11px;white-space:nowrap;color:#000;right:1190px;">200K</div>
<div style="position:absolute;top:1151.5px;height:16px;line-height:16px;font-size:11px;white-space:nowrap;color:#000;right:1190px;">150K</div>
<div style="position:absolute;top:1176.5px;height:16px;line-height:16px;font-size:11px;white-space:nowrap;color:#000;right:1190px;">100K</div>
<div style="position:absolute;top:1201.5px;height:16px;line-height:16px;font-size:11px;white-space:nowrap;color:#000;right:1190px;">50K</div>
<div style="position:absolute;top:1226.5px;height:16px;line-height:16px;font-size:11px;white-space:nowrap;color:#000;right:1190px;">0K</div>
<div style="position:absolute;top:1237px;height:16px;line-height:16px;font-size:11px;white-space:nowrap;color:#000;font-weight:bold;left:1px;width:200px;text-align:center;">Nov 22</div>
<div style="position:absolute;top:1237px;height:16px;line-height:16px;font-size:11px;white-space:nowrap;color:#000;font-weight:bold;left:58px;width:200px;text-align:center;">Jan 23</div>
<div style="position:absolute;top:1237px;height:16px;line-height:16px;font-size:11px;white-space:nowrap;color:#000;font-weight:bold;left:121px;width:200px;text-align:center;">Mar</div>
<div style="position:absolute;top:1237px;height:16px;line-height:16px;font-size:11px;white-space:nowrap;color:#000;font-weight:bold;left:178px;width:200px;text-align:center;">May</div>
<div style="position:absolute;top:1237px;height:16px;line-height:16px;font-size:11px;white-space:nowrap;color:#000;font-weight:bold;left:241px;width:200px;text-align:center;">Jul</div>
<div style="position:absolute;top:1237px;height:16px;line-height:16px;font-size:11px;white-space:nowrap;color:#000;font-weight:bold;left:305px;width:200px;text-align:center;">Sep</div>
<div style="position:absolute;top:1237px;height:16px;line-height:16px;font-size:11px;white-space:nowrap;color:#000;font-weight:bold;left:369px;width:200px;text-align:center;">Nov</div>
<div style="position:absolute;top:1237px;height:16px;line-height:16px;font-size:11px;white-space:nowrap;color:#000;font-weight:bold;left:425px;width:200px;text-align:center;">Jan 24</div>
<div style="position:absolute;top:1237px;height:16px;line-height:16px;font-size:11px;white-space:nowrap;color:#000;font-weight:bold;left:489px;width:200px;text-align:center;">Mar</div>
<div style="position:absolute;top:1237px;height:16px;line-height:16px;font-size:11px;white-space:nowrap;color:#000;font-weight:bold;left:552px;width:200px;text-align:center;">May</div>
<div style="position:absolute;top:1237px;height:16px;line-height:16px;font-size:11px;white-space:nowrap;color:#000;font-weight:bold;left:609px;width:200px;text-align:center;">Jul</div>
<div style="position:absolute;top:1237px;height:16px;line-height:16px;font-size:11px;white-space:nowrap;color:#000;font-weight:bold;left:673px;width:200px;text-align:center;">Sep</div>
<div style="position:absolute;top:1237px;height:16px;line-height:16px;font-size:11px;white-space:nowrap;color:#000;font-weight:bold;left:736px;width:200px;text-align:center;">Nov</div>
<div style="position:absolute;top:1237px;height:16px;line-height:16px;font-size:11px;white-space:nowrap;color:#000;font-weight:bold;left:800px;width:200px;text-align:center;">Jan 25</div>
<div style="position:absolute;top:1237px;height:16px;line-height:16px;font-size:11px;white-space:nowrap;color:#000;font-weight:bold;left:857px;width:200px;text-align:center;">Mar</div>
<div style="position:absolute;top:1237px;height:16px;line-height:16px;font-size:11px;white-space:nowrap;color:#000;font-weight:bold;left:920px;width:200px;text-align:center;">May</div>
<div style="position:absolute;top:1237px;height:16px;line-height:16px;font-size:11px;white-space:nowrap;color:#000;font-weight:bold;left:984px;width:200px;text-align:center;">Jul</div>
<div style="position:absolute;top:1237px;height:16px;line-height:16px;font-size:11px;white-space:nowrap;color:#000;font-weight:bold;left:1040px;width:200px;text-align:center;">Sep</div>
</div>
</body></html>
